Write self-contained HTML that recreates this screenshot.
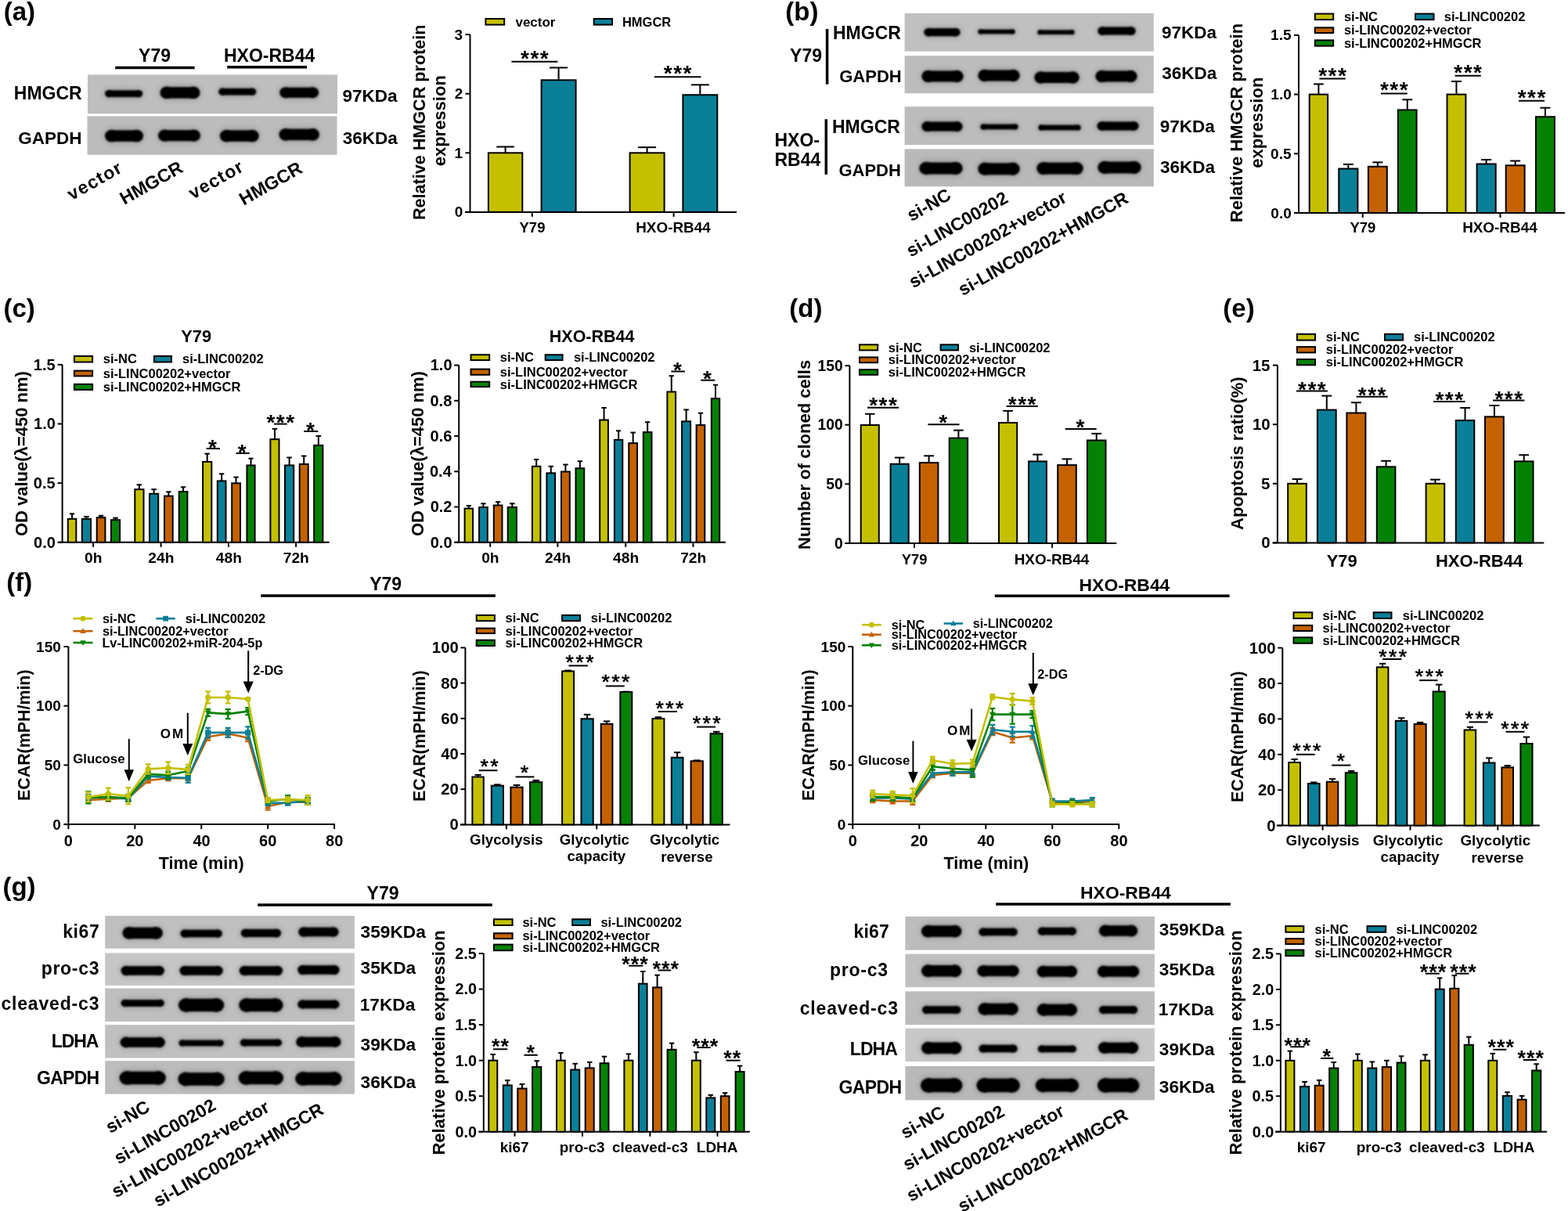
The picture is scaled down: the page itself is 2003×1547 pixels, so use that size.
<!DOCTYPE html>
<html><head><meta charset="utf-8"><title>Figure</title>
<style>
html,body{margin:0;padding:0;background:#fff;}
svg{display:block;}
</style></head><body>
<svg width="2003" height="1547" viewBox="0 0 2003 1547">
<defs>
<filter id="bl" x="-20%" y="-50%" width="140%" height="200%"><feGaussianBlur stdDeviation="1.3"/></filter>
<filter id="bl2" x="-30%" y="-100%" width="160%" height="300%"><feGaussianBlur stdDeviation="3"/></filter>

</defs>
<rect width="2003" height="1547" fill="#fff"/>
<g font-family="'Liberation Sans', Arial, Helvetica, sans-serif" font-weight="bold" fill="#000" stroke-width="2">
<text x="4.66" y="26.31" font-size="33">(a)</text>
<text x="177.07" y="78.51" font-size="23">Y79</text>
<line x1="147.2" y1="86.4" x2="248.7" y2="86.4" stroke="#000" stroke-width="3.5"/>
<text x="285.94" y="78.51" font-size="23">HXO-RB44</text>
<line x1="290.2" y1="85.7" x2="392" y2="85.7" stroke="#000" stroke-width="3.5"/>
<rect x="112" y="95.4" width="319" height="49.8" fill="#bebebe" stroke="none" />
<rect x="132.05" y="112.45" width="52.2" height="14.51" rx="7.25" fill="#000" opacity="0.13" filter="url(#bl2)"/>
<g fill="#050505" filter="url(#bl)"><ellipse cx="139.28" cy="119.7" rx="5.23" ry="4.75"/><ellipse cx="177.02" cy="119.7" rx="5.23" ry="4.75"/><rect x="139.28" y="115.33" width="37.74" height="8.75"/></g>
<rect x="202.45" y="108.02" width="55.1" height="20.76" rx="10.38" fill="#000" opacity="0.13" filter="url(#bl2)"/>
<g fill="#050505" filter="url(#bl)"><ellipse cx="213.12" cy="118.4" rx="8.67" ry="7.88"/><ellipse cx="246.88" cy="118.4" rx="8.67" ry="7.88"/><rect x="213.12" y="111.15" width="33.76" height="14.5"/></g>
<rect x="277.15" y="109.95" width="52.2" height="14.51" rx="7.25" fill="#000" opacity="0.13" filter="url(#bl2)"/>
<g fill="#050505" filter="url(#bl)"><ellipse cx="284.38" cy="117.2" rx="5.23" ry="4.75"/><ellipse cx="322.12" cy="117.2" rx="5.23" ry="4.75"/><rect x="284.38" y="112.83" width="37.74" height="8.75"/></g>
<rect x="355.25" y="108.66" width="53.9" height="19.28" rx="9.64" fill="#000" opacity="0.13" filter="url(#bl2)"/>
<g fill="#050505" filter="url(#bl)"><ellipse cx="365.1" cy="118.3" rx="7.85" ry="7.14"/><ellipse cx="399.3" cy="118.3" rx="7.85" ry="7.14"/><rect x="365.1" y="111.73" width="34.19" height="13.14"/></g>
<rect x="111.5" y="148.4" width="319" height="49.4" fill="#bcbcbc" stroke="none" />
<rect x="132.05" y="163.22" width="53" height="20.76" rx="10.38" fill="#000" opacity="0.13" filter="url(#bl2)"/>
<g fill="#050505" filter="url(#bl)"><ellipse cx="142.72" cy="173.6" rx="8.67" ry="7.88"/><ellipse cx="174.38" cy="173.6" rx="8.67" ry="7.88"/><rect x="142.72" y="166.35" width="31.66" height="14.5"/></g>
<rect x="199.95" y="163.03" width="58.1" height="20.34" rx="10.17" fill="#000" opacity="0.13" filter="url(#bl2)"/>
<g fill="#050505" filter="url(#bl)"><ellipse cx="210.39" cy="173.2" rx="8.44" ry="7.67"/><ellipse cx="247.61" cy="173.2" rx="8.44" ry="7.67"/><rect x="210.39" y="166.14" width="37.23" height="14.11"/></g>
<rect x="278.85" y="163.22" width="53.9" height="20.76" rx="10.38" fill="#000" opacity="0.13" filter="url(#bl2)"/>
<g fill="#050505" filter="url(#bl)"><ellipse cx="289.52" cy="173.6" rx="8.67" ry="7.88"/><ellipse cx="322.08" cy="173.6" rx="8.67" ry="7.88"/><rect x="289.52" y="166.35" width="32.56" height="14.5"/></g>
<rect x="354.45" y="161.52" width="55.5" height="20.76" rx="10.38" fill="#000" opacity="0.13" filter="url(#bl2)"/>
<g fill="#050505" filter="url(#bl)"><ellipse cx="365.12" cy="171.9" rx="8.67" ry="7.88"/><ellipse cx="399.28" cy="171.9" rx="8.67" ry="7.88"/><rect x="365.12" y="164.65" width="34.16" height="14.5"/></g>
<text x="17.79" y="126.81" font-size="23">HMGCR</text>
<text x="23.36" y="183.84" font-size="22.5">GAPDH</text>
<text x="437.42" y="129.74" font-size="22.5">97KDa</text>
<text x="437.68" y="184.24" font-size="22.5">36KDa</text>
<text x="91.56" y="256.52" font-size="23" transform="rotate(-29.5 91.56 256.52)" letter-spacing="1.3">vector</text>
<text x="158.81" y="262.1" font-size="23.3" transform="rotate(-29.5 158.81 262.1)">HMGCR</text>
<text x="246.56" y="255.02" font-size="23" transform="rotate(-29.5 246.56 255.02)" letter-spacing="1.3">vector</text>
<text x="311.31" y="262.9" font-size="23.3" transform="rotate(-29.5 311.31 262.9)">HMGCR</text>
<line x1="600.5" y1="270.9" x2="600.5" y2="44.1" stroke="#000"/>
<line x1="594" y1="270.9" x2="941" y2="270.9" stroke="#000"/>
<line x1="594.5" y1="270.9" x2="600.5" y2="270.9" stroke="#000"/>
<text x="580.71" y="277.44" font-size="19">0</text>
<line x1="594.5" y1="195.3" x2="600.5" y2="195.3" stroke="#000"/>
<text x="580.46" y="201.84" font-size="19">1</text>
<line x1="594.5" y1="119.7" x2="600.5" y2="119.7" stroke="#000"/>
<text x="580.69" y="126.24" font-size="19">2</text>
<line x1="594.5" y1="44.1" x2="600.5" y2="44.1" stroke="#000"/>
<text x="580.62" y="50.64" font-size="19">3</text>
<line x1="679.8" y1="270.9" x2="679.8" y2="276.9" stroke="#000"/>
<line x1="860.6" y1="270.9" x2="860.6" y2="276.9" stroke="#000"/>
<line x1="645.6" y1="195.3" x2="645.6" y2="187.51" stroke="#000"/>
<line x1="634.25" y1="187.51" x2="656.95" y2="187.51" stroke="#000"/>
<rect x="623.9" y="195.3" width="43.4" height="75.6" fill="#c4c000" stroke="#000" stroke-width="2" />
<line x1="713.6" y1="102.31" x2="713.6" y2="86.44" stroke="#000"/>
<line x1="702.1" y1="86.44" x2="725.1" y2="86.44" stroke="#000"/>
<rect x="691.6" y="102.31" width="44" height="168.59" fill="#0a7f98" stroke="#000" stroke-width="2" />
<line x1="826.6" y1="195.3" x2="826.6" y2="188.19" stroke="#000"/>
<line x1="815.1" y1="188.19" x2="838.1" y2="188.19" stroke="#000"/>
<rect x="804.6" y="195.3" width="44" height="75.6" fill="#c4c000" stroke="#000" stroke-width="2" />
<line x1="894.35" y1="121.21" x2="894.35" y2="108.36" stroke="#000"/>
<line x1="882.87" y1="108.36" x2="905.82" y2="108.36" stroke="#000"/>
<rect x="872.4" y="121.21" width="43.9" height="149.69" fill="#0a7f98" stroke="#000" stroke-width="2" />
<line x1="653.4" y1="78.8" x2="712.4" y2="78.8" stroke="#000"/>
<text x="665.03" y="83.56" font-size="28" letter-spacing="1.5">***</text>
<line x1="835.8" y1="98.3" x2="895.5" y2="98.3" stroke="#000"/>
<text x="847.78" y="103.06" font-size="28" letter-spacing="1.5">***</text>
<rect x="620.4" y="24" width="23.8" height="7.6" fill="#c4c000" stroke="#000" stroke-width="2" />
<text x="658.43" y="33.85" font-size="17">vector</text>
<rect x="758.7" y="24" width="23.3" height="7.6" fill="#0a7f98" stroke="#000" stroke-width="2" />
<text x="794.9" y="33.68" font-size="16.5">HMGCR</text>
<text x="663.53" y="296.96" font-size="18.5">Y79</text>
<text x="812.23" y="297.1" font-size="18.9">HXO-RB44</text>
<text x="542.6" y="281.07" font-size="21.6" transform="rotate(-90 542.6 281.07)">Relative HMGCR protein</text>
<text x="569.3" y="212.33" font-size="22" transform="rotate(-90 569.3 212.33)">expression</text>
<text x="1003.36" y="26.21" font-size="33">(b)</text>
<rect x="1155.6" y="17" width="318.2" height="48.6" fill="#c0c0c0" stroke="none" />
<rect x="1178.25" y="33.15" width="50.5" height="16.1" rx="8.05" fill="#000" opacity="0.13" filter="url(#bl2)"/>
<g fill="#050505" filter="url(#bl)"><ellipse cx="1186.36" cy="41.2" rx="6.11" ry="5.55"/><ellipse cx="1220.64" cy="41.2" rx="6.11" ry="5.55"/><rect x="1186.36" y="36.09" width="34.29" height="10.21"/></g>
<rect x="1247.25" y="34.84" width="51.5" height="11.33" rx="5.67" fill="#000" opacity="0.13" filter="url(#bl2)"/>
<g fill="#050505" filter="url(#bl)"><ellipse cx="1252.73" cy="40.5" rx="3.48" ry="3.17"/><ellipse cx="1293.27" cy="40.5" rx="3.48" ry="3.17"/><rect x="1252.73" y="37.59" width="40.54" height="5.82"/></g>
<rect x="1323.25" y="35.54" width="51.5" height="11.33" rx="5.67" fill="#000" opacity="0.13" filter="url(#bl2)"/>
<g fill="#050505" filter="url(#bl)"><ellipse cx="1328.73" cy="41.2" rx="3.48" ry="3.17"/><ellipse cx="1369.27" cy="41.2" rx="3.48" ry="3.17"/><rect x="1328.73" y="38.29" width="40.54" height="5.82"/></g>
<rect x="1400.25" y="31.45" width="52.5" height="16.1" rx="8.05" fill="#000" opacity="0.13" filter="url(#bl2)"/>
<g fill="#050505" filter="url(#bl)"><ellipse cx="1408.36" cy="39.5" rx="6.11" ry="5.55"/><ellipse cx="1444.64" cy="39.5" rx="6.11" ry="5.55"/><rect x="1408.36" y="34.39" width="36.29" height="10.21"/></g>
<rect x="1155.6" y="71.2" width="318.2" height="48" fill="#bdbdbd" stroke="none" />
<rect x="1175.25" y="87.33" width="57.5" height="20.34" rx="10.17" fill="#000" opacity="0.13" filter="url(#bl2)"/>
<g fill="#050505" filter="url(#bl)"><ellipse cx="1185.69" cy="97.5" rx="8.44" ry="7.67"/><ellipse cx="1222.31" cy="97.5" rx="8.44" ry="7.67"/><rect x="1185.69" y="90.44" width="36.63" height="14.11"/></g>
<rect x="1247.25" y="86.33" width="57.5" height="20.34" rx="10.17" fill="#000" opacity="0.13" filter="url(#bl2)"/>
<g fill="#050505" filter="url(#bl)"><ellipse cx="1257.69" cy="96.5" rx="8.44" ry="7.67"/><ellipse cx="1294.31" cy="96.5" rx="8.44" ry="7.67"/><rect x="1257.69" y="89.44" width="36.63" height="14.11"/></g>
<rect x="1319.25" y="88.83" width="61.5" height="20.34" rx="10.17" fill="#000" opacity="0.13" filter="url(#bl2)"/>
<g fill="#050505" filter="url(#bl)"><ellipse cx="1329.69" cy="99" rx="8.44" ry="7.67"/><ellipse cx="1370.31" cy="99" rx="8.44" ry="7.67"/><rect x="1329.69" y="91.94" width="40.63" height="14.11"/></g>
<rect x="1397.25" y="87.33" width="57.5" height="20.34" rx="10.17" fill="#000" opacity="0.13" filter="url(#bl2)"/>
<g fill="#050505" filter="url(#bl)"><ellipse cx="1407.69" cy="97.5" rx="8.44" ry="7.67"/><ellipse cx="1444.31" cy="97.5" rx="8.44" ry="7.67"/><rect x="1407.69" y="90.44" width="36.63" height="14.11"/></g>
<rect x="1155.6" y="136.2" width="318.2" height="48.9" fill="#bcbcbc" stroke="none" />
<rect x="1175.25" y="152.49" width="56.5" height="18.22" rx="9.11" fill="#000" opacity="0.13" filter="url(#bl2)"/>
<g fill="#050505" filter="url(#bl)"><ellipse cx="1184.52" cy="161.6" rx="7.27" ry="6.61"/><ellipse cx="1222.48" cy="161.6" rx="7.27" ry="6.61"/><rect x="1184.52" y="155.52" width="37.96" height="12.16"/></g>
<rect x="1250.25" y="155.81" width="52.5" height="12.39" rx="6.2" fill="#000" opacity="0.13" filter="url(#bl2)"/>
<g fill="#050505" filter="url(#bl)"><ellipse cx="1256.31" cy="162" rx="4.06" ry="3.7"/><ellipse cx="1296.69" cy="162" rx="4.06" ry="3.7"/><rect x="1256.31" y="158.6" width="40.37" height="6.8"/></g>
<rect x="1324.25" y="156.81" width="58.5" height="12.39" rx="6.2" fill="#000" opacity="0.13" filter="url(#bl2)"/>
<g fill="#050505" filter="url(#bl)"><ellipse cx="1330.31" cy="163" rx="4.06" ry="3.7"/><ellipse cx="1376.69" cy="163" rx="4.06" ry="3.7"/><rect x="1330.31" y="159.6" width="46.37" height="6.8"/></g>
<rect x="1399.25" y="152.42" width="57.5" height="17.16" rx="8.58" fill="#000" opacity="0.13" filter="url(#bl2)"/>
<g fill="#050505" filter="url(#bl)"><ellipse cx="1407.94" cy="161" rx="6.69" ry="6.08"/><ellipse cx="1448.06" cy="161" rx="6.69" ry="6.08"/><rect x="1407.94" y="155.41" width="40.12" height="11.19"/></g>
<rect x="1155.6" y="190.4" width="318.2" height="47.9" fill="#b9b9b9" stroke="none" />
<rect x="1172.25" y="204.3" width="59.5" height="21.4" rx="10.7" fill="#000" opacity="0.13" filter="url(#bl2)"/>
<g fill="#050505" filter="url(#bl)"><ellipse cx="1183.27" cy="215" rx="9.02" ry="8.2"/><ellipse cx="1220.73" cy="215" rx="9.02" ry="8.2"/><rect x="1183.27" y="207.46" width="37.46" height="15.09"/></g>
<rect x="1247.25" y="205.1" width="57.5" height="21.4" rx="10.7" fill="#000" opacity="0.13" filter="url(#bl2)"/>
<g fill="#050505" filter="url(#bl)"><ellipse cx="1258.27" cy="215.8" rx="9.02" ry="8.2"/><ellipse cx="1293.73" cy="215.8" rx="9.02" ry="8.2"/><rect x="1258.27" y="208.26" width="35.46" height="15.09"/></g>
<rect x="1322.25" y="204.4" width="63.5" height="21.4" rx="10.7" fill="#000" opacity="0.13" filter="url(#bl2)"/>
<g fill="#050505" filter="url(#bl)"><ellipse cx="1333.27" cy="215.1" rx="9.02" ry="8.2"/><ellipse cx="1374.73" cy="215.1" rx="9.02" ry="8.2"/><rect x="1333.27" y="207.56" width="41.46" height="15.09"/></g>
<rect x="1400.25" y="203.3" width="59.5" height="21.4" rx="10.7" fill="#000" opacity="0.13" filter="url(#bl2)"/>
<g fill="#050505" filter="url(#bl)"><ellipse cx="1411.27" cy="214" rx="9.02" ry="8.2"/><ellipse cx="1448.73" cy="214" rx="9.02" ry="8.2"/><rect x="1411.27" y="206.46" width="37.46" height="15.09"/></g>
<text x="1063.99" y="49.71" font-size="23">HMGCR</text>
<text x="1072.23" y="104.87" font-size="22">GAPDH</text>
<text x="1062.99" y="169.51" font-size="23">HMGCR</text>
<text x="1071.43" y="225.07" font-size="22">GAPDH</text>
<text x="1009.11" y="78.51" font-size="23">Y79</text>
<line x1="1056.6" y1="37.1" x2="1056.6" y2="107.7" stroke="#000" stroke-width="3.5"/>
<text x="989.46" y="186.71" font-size="23">HXO-</text>
<text x="989.46" y="212.21" font-size="23">RB44</text>
<line x1="1055.3" y1="152.3" x2="1055.3" y2="222.9" stroke="#000" stroke-width="3.5"/>
<text x="1483.92" y="48.94" font-size="22.5">97KDa</text>
<text x="1484.18" y="100.64" font-size="22.5">36KDa</text>
<text x="1481.72" y="168.74" font-size="22.5">97KDa</text>
<text x="1481.98" y="221.34" font-size="22.5">36KDa</text>
<text x="1164.27" y="283.27" font-size="23" transform="rotate(-29.5 1164.27 283.27)">si-NC</text>
<text x="1163.57" y="328.68" font-size="23" transform="rotate(-29.5 1163.57 328.68)">si-LINC00202</text>
<text x="1166.8" y="368.57" font-size="23" transform="rotate(-29.5 1166.8 368.57)">si-LINC00202+vector</text>
<text x="1229.88" y="378.3" font-size="23" transform="rotate(-29.5 1229.88 378.3)">si-LINC00202+HMGCR</text>
<line x1="1659" y1="272" x2="1659" y2="44.9" stroke="#000"/>
<line x1="1653" y1="272" x2="1999" y2="272" stroke="#000"/>
<line x1="1653" y1="272" x2="1659" y2="272" stroke="#000"/>
<text x="1623.37" y="278.54" font-size="19">0.0</text>
<line x1="1653" y1="196.3" x2="1659" y2="196.3" stroke="#000"/>
<text x="1623.12" y="202.84" font-size="19">0.5</text>
<line x1="1653" y1="120.6" x2="1659" y2="120.6" stroke="#000"/>
<text x="1623.37" y="127.14" font-size="19">1.0</text>
<line x1="1653" y1="44.9" x2="1659" y2="44.9" stroke="#000"/>
<text x="1623.12" y="51.44" font-size="19">1.5</text>
<line x1="1740.7" y1="272" x2="1740.7" y2="278" stroke="#000"/>
<line x1="1916.5" y1="272" x2="1916.5" y2="278" stroke="#000"/>
<line x1="1684.4" y1="120.6" x2="1684.4" y2="107.43" stroke="#000"/>
<line x1="1678.05" y1="107.43" x2="1690.75" y2="107.43" stroke="#000"/>
<rect x="1672.7" y="120.6" width="23.4" height="151.4" fill="#c4c000" stroke="#000" stroke-width="2" />
<line x1="1722.35" y1="215.53" x2="1722.35" y2="209.93" stroke="#000"/>
<line x1="1715.82" y1="209.93" x2="1728.88" y2="209.93" stroke="#000"/>
<rect x="1710.3" y="215.53" width="24.1" height="56.47" fill="#0a7f98" stroke="#000" stroke-width="2" />
<line x1="1759.85" y1="212.8" x2="1759.85" y2="207.35" stroke="#000"/>
<line x1="1753.38" y1="207.35" x2="1766.32" y2="207.35" stroke="#000"/>
<rect x="1747.9" y="212.8" width="23.9" height="59.2" fill="#c46200" stroke="#000" stroke-width="2" />
<line x1="1797.75" y1="140.43" x2="1797.75" y2="127.26" stroke="#000"/>
<line x1="1791.33" y1="127.26" x2="1804.17" y2="127.26" stroke="#000"/>
<rect x="1785.9" y="140.43" width="23.7" height="131.57" fill="#058205" stroke="#000" stroke-width="2" />
<line x1="1860.45" y1="120.6" x2="1860.45" y2="103.95" stroke="#000"/>
<line x1="1853.97" y1="103.95" x2="1866.93" y2="103.95" stroke="#000"/>
<rect x="1848.5" y="120.6" width="23.9" height="151.4" fill="#c4c000" stroke="#000" stroke-width="2" />
<line x1="1898.65" y1="209.47" x2="1898.65" y2="204.02" stroke="#000"/>
<line x1="1892.12" y1="204.02" x2="1905.18" y2="204.02" stroke="#000"/>
<rect x="1886.6" y="209.47" width="24.1" height="62.53" fill="#0a7f98" stroke="#000" stroke-width="2" />
<line x1="1935.65" y1="211.29" x2="1935.65" y2="205.54" stroke="#000"/>
<line x1="1929.18" y1="205.54" x2="1942.12" y2="205.54" stroke="#000"/>
<rect x="1923.7" y="211.29" width="23.9" height="60.71" fill="#c46200" stroke="#000" stroke-width="2" />
<line x1="1973.95" y1="149.21" x2="1973.95" y2="137.71" stroke="#000"/>
<line x1="1967.47" y1="137.71" x2="1980.43" y2="137.71" stroke="#000"/>
<rect x="1962" y="149.21" width="23.9" height="122.79" fill="#058205" stroke="#000" stroke-width="2" />
<line x1="1685.4" y1="100.6" x2="1718.8" y2="100.6" stroke="#000"/>
<text x="1684.23" y="105.56" font-size="28" letter-spacing="1.5">***</text>
<line x1="1763.9" y1="119.4" x2="1797.8" y2="119.4" stroke="#000"/>
<text x="1762.98" y="124.36" font-size="28" letter-spacing="1.5">***</text>
<line x1="1858.6" y1="96.7" x2="1891.8" y2="96.7" stroke="#000"/>
<text x="1857.33" y="101.76" font-size="28" letter-spacing="1.5">***</text>
<line x1="1940" y1="128.7" x2="1973.1" y2="128.7" stroke="#000"/>
<text x="1938.68" y="133.86" font-size="28" letter-spacing="1.5">***</text>
<rect x="1679.8" y="17.6" width="23.4" height="7.5" fill="#c4c000" stroke="#000" stroke-width="2" />
<rect x="1808" y="17.6" width="23.5" height="7.5" fill="#0a7f98" stroke="#000" stroke-width="2" />
<rect x="1679.8" y="35.3" width="23.4" height="6.8" fill="#c46200" stroke="#000" stroke-width="2" />
<rect x="1679.8" y="51.4" width="23.4" height="7.3" fill="#058205" stroke="#000" stroke-width="2" />
<text x="1716.92" y="27.18" font-size="16.5">si-NC</text>
<text x="1844.72" y="27.18" font-size="16.5">si-LINC00202</text>
<text x="1716.92" y="44.38" font-size="16.5">si-LINC00202+vector</text>
<text x="1716.92" y="60.98" font-size="16.5">si-LINC00202+HMGCR</text>
<text x="1724.43" y="297.06" font-size="18.5">Y79</text>
<text x="1868.13" y="297.2" font-size="18.9">HXO-RB44</text>
<text x="1587.1" y="284.18" font-size="22" transform="rotate(-90 1587.1 284.18)">Relative HMGCR protein</text>
<text x="1613.3" y="214.83" font-size="22" transform="rotate(-90 1613.3 214.83)">expression</text>
<text x="4.46" y="404.91" font-size="33">(c)</text>
<text x="231.22" y="436.9" font-size="21.8">Y79</text>
<line x1="79.6" y1="692.8" x2="79.6" y2="465.85" stroke="#000"/>
<line x1="74.3" y1="692.8" x2="420.6" y2="692.8" stroke="#000"/>
<line x1="73.6" y1="692.8" x2="79.6" y2="692.8" stroke="#000"/>
<text x="43.12" y="699.68" font-size="20">0.0</text>
<line x1="73.6" y1="617.15" x2="79.6" y2="617.15" stroke="#000"/>
<text x="42.85" y="624.03" font-size="20">0.5</text>
<line x1="73.6" y1="541.5" x2="79.6" y2="541.5" stroke="#000"/>
<text x="43.12" y="548.38" font-size="20">1.0</text>
<line x1="73.6" y1="465.85" x2="79.6" y2="465.85" stroke="#000"/>
<text x="42.85" y="472.73" font-size="20">1.5</text>
<line x1="119.1" y1="692.8" x2="119.1" y2="698.8" stroke="#000"/>
<line x1="205.6" y1="692.8" x2="205.6" y2="698.8" stroke="#000"/>
<line x1="291.9" y1="692.8" x2="291.9" y2="698.8" stroke="#000"/>
<line x1="378.1" y1="692.8" x2="378.1" y2="698.8" stroke="#000"/>
<line x1="92.05" y1="662.84" x2="92.05" y2="656.34" stroke="#000"/>
<line x1="88.92" y1="656.34" x2="95.17" y2="656.34" stroke="#000"/>
<rect x="86.8" y="662.84" width="10.5" height="29.96" fill="#c4c000" stroke="#000" stroke-width="2" />
<line x1="110.4" y1="662.84" x2="110.4" y2="659.97" stroke="#000"/>
<line x1="107.1" y1="659.97" x2="113.7" y2="659.97" stroke="#000"/>
<rect x="104.8" y="662.84" width="11.2" height="29.96" fill="#0a7f98" stroke="#000" stroke-width="2" />
<line x1="129.05" y1="661.18" x2="129.05" y2="658.76" stroke="#000"/>
<line x1="125.88" y1="658.76" x2="132.23" y2="658.76" stroke="#000"/>
<rect x="123.7" y="661.18" width="10.7" height="31.62" fill="#c46200" stroke="#000" stroke-width="2" />
<line x1="147.5" y1="664.2" x2="147.5" y2="661.63" stroke="#000"/>
<line x1="144.2" y1="661.63" x2="150.8" y2="661.63" stroke="#000"/>
<rect x="141.9" y="664.2" width="11.2" height="28.6" fill="#058205" stroke="#000" stroke-width="2" />
<line x1="177.9" y1="625.17" x2="177.9" y2="619.27" stroke="#000"/>
<line x1="174.6" y1="619.27" x2="181.2" y2="619.27" stroke="#000"/>
<rect x="172.3" y="625.17" width="11.2" height="67.63" fill="#c4c000" stroke="#000" stroke-width="2" />
<line x1="196.6" y1="630.77" x2="196.6" y2="625.17" stroke="#000"/>
<line x1="193.3" y1="625.17" x2="199.9" y2="625.17" stroke="#000"/>
<rect x="191" y="630.77" width="11.2" height="62.03" fill="#0a7f98" stroke="#000" stroke-width="2" />
<line x1="215.35" y1="633.64" x2="215.35" y2="628.35" stroke="#000"/>
<line x1="212.18" y1="628.35" x2="218.52" y2="628.35" stroke="#000"/>
<rect x="210" y="633.64" width="10.7" height="59.16" fill="#c46200" stroke="#000" stroke-width="2" />
<line x1="234.05" y1="628.04" x2="234.05" y2="622.29" stroke="#000"/>
<line x1="230.88" y1="622.29" x2="237.23" y2="622.29" stroke="#000"/>
<rect x="228.7" y="628.04" width="10.7" height="64.76" fill="#058205" stroke="#000" stroke-width="2" />
<line x1="264.7" y1="589.92" x2="264.7" y2="579.63" stroke="#000"/>
<line x1="261.4" y1="579.63" x2="268" y2="579.63" stroke="#000"/>
<rect x="259.1" y="589.92" width="11.2" height="102.88" fill="#c4c000" stroke="#000" stroke-width="2" />
<line x1="283.15" y1="614.43" x2="283.15" y2="605.35" stroke="#000"/>
<line x1="279.97" y1="605.35" x2="286.32" y2="605.35" stroke="#000"/>
<rect x="277.8" y="614.43" width="10.7" height="78.37" fill="#0a7f98" stroke="#000" stroke-width="2" />
<line x1="301.6" y1="617.3" x2="301.6" y2="609.58" stroke="#000"/>
<line x1="298.4" y1="609.58" x2="304.8" y2="609.58" stroke="#000"/>
<rect x="296.2" y="617.3" width="10.8" height="75.5" fill="#c46200" stroke="#000" stroke-width="2" />
<line x1="320.5" y1="594.45" x2="320.5" y2="585.68" stroke="#000"/>
<line x1="317.45" y1="585.68" x2="323.55" y2="585.68" stroke="#000"/>
<rect x="315.4" y="594.45" width="10.2" height="98.35" fill="#058205" stroke="#000" stroke-width="2" />
<line x1="350.95" y1="561.17" x2="350.95" y2="547.85" stroke="#000"/>
<line x1="347.67" y1="547.85" x2="354.23" y2="547.85" stroke="#000"/>
<rect x="345.4" y="561.17" width="11.1" height="131.63" fill="#c4c000" stroke="#000" stroke-width="2" />
<line x1="369.6" y1="594.45" x2="369.6" y2="584.47" stroke="#000"/>
<line x1="366.3" y1="584.47" x2="372.9" y2="584.47" stroke="#000"/>
<rect x="364" y="594.45" width="11.2" height="98.35" fill="#0a7f98" stroke="#000" stroke-width="2" />
<line x1="388.2" y1="592.94" x2="388.2" y2="582.5" stroke="#000"/>
<line x1="384.95" y1="582.5" x2="391.45" y2="582.5" stroke="#000"/>
<rect x="382.7" y="592.94" width="11" height="99.86" fill="#c46200" stroke="#000" stroke-width="2" />
<line x1="406.8" y1="568.89" x2="406.8" y2="556.93" stroke="#000"/>
<line x1="403.5" y1="556.93" x2="410.1" y2="556.93" stroke="#000"/>
<rect x="401.2" y="568.89" width="11.2" height="123.91" fill="#058205" stroke="#000" stroke-width="2" />
<line x1="263.6" y1="573" x2="280.9" y2="573" stroke="#000"/>
<text x="266.02" y="580.56" font-size="28" letter-spacing="1.5">*</text>
<line x1="301.5" y1="579" x2="318.7" y2="579" stroke="#000"/>
<text x="303.87" y="586.56" font-size="28" letter-spacing="1.5">*</text>
<line x1="349.9" y1="541.6" x2="366.7" y2="541.6" stroke="#000"/>
<text x="340.43" y="549.46" font-size="28" letter-spacing="1.5">***</text>
<line x1="388.2" y1="551" x2="406.2" y2="551" stroke="#000"/>
<text x="390.97" y="558.56" font-size="28" letter-spacing="1.5">*</text>
<rect x="94.9" y="454.9" width="23.2" height="7.6" fill="#c4c000" stroke="#000" stroke-width="2" />
<rect x="197" y="454.9" width="22" height="7.6" fill="#0a7f98" stroke="#000" stroke-width="2" />
<rect x="94.9" y="473.6" width="23.2" height="6.8" fill="#c46200" stroke="#000" stroke-width="2" />
<rect x="94.9" y="490.8" width="23.2" height="7.1" fill="#058205" stroke="#000" stroke-width="2" />
<text x="131.72" y="464.38" font-size="16.5">si-NC</text>
<text x="233.02" y="464.38" font-size="16.5">si-LINC00202</text>
<text x="131.72" y="482.68" font-size="16.5">si-LINC00202+vector</text>
<text x="131.72" y="500.03" font-size="16.5">si-LINC00202+HMGCR</text>
<text x="108.11" y="719" font-size="19.2">0h</text>
<text x="189.32" y="719" font-size="19.2">24h</text>
<text x="275.81" y="719" font-size="19.2">48h</text>
<text x="361.74" y="719" font-size="19.2">72h</text>
<text x="34.7" y="685.06" font-size="22" transform="rotate(-90 34.7 685.06)">OD value(λ=450 nm)</text>
<text x="701.78" y="436.8" font-size="21.5">HXO-RB44</text>
<line x1="586.2" y1="692.8" x2="586.2" y2="466.6" stroke="#000"/>
<line x1="580.6" y1="692.8" x2="926.9" y2="692.8" stroke="#000"/>
<line x1="580.2" y1="692.8" x2="586.2" y2="692.8" stroke="#000"/>
<text x="549.72" y="699.68" font-size="20">0.0</text>
<line x1="580.2" y1="647.56" x2="586.2" y2="647.56" stroke="#000"/>
<text x="549.7" y="654.44" font-size="20">0.2</text>
<line x1="580.2" y1="602.32" x2="586.2" y2="602.32" stroke="#000"/>
<text x="549" y="609.2" font-size="20">0.4</text>
<line x1="580.2" y1="557.08" x2="586.2" y2="557.08" stroke="#000"/>
<text x="549.62" y="563.96" font-size="20">0.6</text>
<line x1="580.2" y1="511.84" x2="586.2" y2="511.84" stroke="#000"/>
<text x="549.51" y="518.72" font-size="20">0.8</text>
<line x1="580.2" y1="466.6" x2="586.2" y2="466.6" stroke="#000"/>
<text x="549.72" y="473.48" font-size="20">1.0</text>
<line x1="626.2" y1="692.8" x2="626.2" y2="698.8" stroke="#000"/>
<line x1="712.4" y1="692.8" x2="712.4" y2="698.8" stroke="#000"/>
<line x1="799.2" y1="692.8" x2="799.2" y2="698.8" stroke="#000"/>
<line x1="885.5" y1="692.8" x2="885.5" y2="698.8" stroke="#000"/>
<line x1="598.85" y1="649.6" x2="598.85" y2="645.98" stroke="#000"/>
<line x1="595.73" y1="645.98" x2="601.98" y2="645.98" stroke="#000"/>
<rect x="593.6" y="649.6" width="10.5" height="43.2" fill="#c4c000" stroke="#000" stroke-width="2" />
<line x1="617.45" y1="648.01" x2="617.45" y2="643.26" stroke="#000"/>
<line x1="614.28" y1="643.26" x2="620.62" y2="643.26" stroke="#000"/>
<rect x="612.1" y="648.01" width="10.7" height="44.79" fill="#0a7f98" stroke="#000" stroke-width="2" />
<line x1="636.15" y1="645.52" x2="636.15" y2="641.23" stroke="#000"/>
<line x1="632.97" y1="641.23" x2="639.33" y2="641.23" stroke="#000"/>
<rect x="630.8" y="645.52" width="10.7" height="47.28" fill="#c46200" stroke="#000" stroke-width="2" />
<line x1="654.3" y1="648.01" x2="654.3" y2="643.26" stroke="#000"/>
<line x1="651" y1="643.26" x2="657.6" y2="643.26" stroke="#000"/>
<rect x="648.7" y="648.01" width="11.2" height="44.79" fill="#058205" stroke="#000" stroke-width="2" />
<line x1="685.15" y1="595.76" x2="685.15" y2="586.94" stroke="#000"/>
<line x1="682.02" y1="586.94" x2="688.27" y2="586.94" stroke="#000"/>
<rect x="679.9" y="595.76" width="10.5" height="97.04" fill="#c4c000" stroke="#000" stroke-width="2" />
<line x1="703.75" y1="604.36" x2="703.75" y2="595.76" stroke="#000"/>
<line x1="700.58" y1="595.76" x2="706.92" y2="595.76" stroke="#000"/>
<rect x="698.4" y="604.36" width="10.7" height="88.44" fill="#0a7f98" stroke="#000" stroke-width="2" />
<line x1="722.4" y1="602.55" x2="722.4" y2="593.5" stroke="#000"/>
<line x1="719.2" y1="593.5" x2="725.6" y2="593.5" stroke="#000"/>
<rect x="717" y="602.55" width="10.8" height="90.25" fill="#c46200" stroke="#000" stroke-width="2" />
<line x1="740.85" y1="598.25" x2="740.85" y2="589.2" stroke="#000"/>
<line x1="737.67" y1="589.2" x2="744.03" y2="589.2" stroke="#000"/>
<rect x="735.5" y="598.25" width="10.7" height="94.55" fill="#058205" stroke="#000" stroke-width="2" />
<line x1="771.55" y1="536.5" x2="771.55" y2="520.89" stroke="#000"/>
<line x1="768.38" y1="520.89" x2="774.72" y2="520.89" stroke="#000"/>
<rect x="766.2" y="536.5" width="10.7" height="156.3" fill="#c4c000" stroke="#000" stroke-width="2" />
<line x1="790.1" y1="561.83" x2="790.1" y2="550.29" stroke="#000"/>
<line x1="787" y1="550.29" x2="793.2" y2="550.29" stroke="#000"/>
<rect x="784.9" y="561.83" width="10.4" height="130.97" fill="#0a7f98" stroke="#000" stroke-width="2" />
<line x1="808.65" y1="566.13" x2="808.65" y2="552.56" stroke="#000"/>
<line x1="805.47" y1="552.56" x2="811.83" y2="552.56" stroke="#000"/>
<rect x="803.3" y="566.13" width="10.7" height="126.67" fill="#c46200" stroke="#000" stroke-width="2" />
<line x1="827.15" y1="552.1" x2="827.15" y2="539.21" stroke="#000"/>
<line x1="823.97" y1="539.21" x2="830.33" y2="539.21" stroke="#000"/>
<rect x="821.8" y="552.1" width="10.7" height="140.7" fill="#058205" stroke="#000" stroke-width="2" />
<line x1="857.75" y1="500.53" x2="857.75" y2="480.17" stroke="#000"/>
<line x1="854.58" y1="480.17" x2="860.92" y2="480.17" stroke="#000"/>
<rect x="852.4" y="500.53" width="10.7" height="192.27" fill="#c4c000" stroke="#000" stroke-width="2" />
<line x1="876.6" y1="538.31" x2="876.6" y2="523.38" stroke="#000"/>
<line x1="873.35" y1="523.38" x2="879.85" y2="523.38" stroke="#000"/>
<rect x="871.1" y="538.31" width="11" height="154.49" fill="#0a7f98" stroke="#000" stroke-width="2" />
<line x1="894.95" y1="543.06" x2="894.95" y2="527.67" stroke="#000"/>
<line x1="891.78" y1="527.67" x2="898.12" y2="527.67" stroke="#000"/>
<rect x="889.6" y="543.06" width="10.7" height="149.74" fill="#c46200" stroke="#000" stroke-width="2" />
<line x1="914" y1="509.13" x2="914" y2="491.71" stroke="#000"/>
<line x1="910.9" y1="491.71" x2="917.1" y2="491.71" stroke="#000"/>
<rect x="908.8" y="509.13" width="10.4" height="183.67" fill="#058205" stroke="#000" stroke-width="2" />
<line x1="857.4" y1="474.5" x2="874.9" y2="474.5" stroke="#000"/>
<text x="859.92" y="481.86" font-size="28" letter-spacing="1.5">*</text>
<line x1="895.3" y1="485.7" x2="913.3" y2="485.7" stroke="#000"/>
<text x="898.07" y="493.06" font-size="28" letter-spacing="1.5">*</text>
<rect x="601.5" y="453.2" width="23.7" height="6.9" fill="#c4c000" stroke="#000" stroke-width="2" />
<rect x="696.7" y="453.2" width="21.9" height="6.9" fill="#0a7f98" stroke="#000" stroke-width="2" />
<rect x="601.5" y="471.6" width="23.7" height="7.2" fill="#c46200" stroke="#000" stroke-width="2" />
<rect x="601.5" y="487.7" width="23.7" height="6.4" fill="#058205" stroke="#000" stroke-width="2" />
<text x="638.82" y="462.33" font-size="16.5">si-NC</text>
<text x="732.92" y="462.33" font-size="16.5">si-LINC00202</text>
<text x="638.82" y="480.88" font-size="16.5">si-LINC00202+vector</text>
<text x="638.82" y="496.58" font-size="16.5">si-LINC00202+HMGCR</text>
<text x="615.21" y="719" font-size="19.2">0h</text>
<text x="696.12" y="719" font-size="19.2">24h</text>
<text x="783.11" y="719" font-size="19.2">48h</text>
<text x="869.14" y="719" font-size="19.2">72h</text>
<text x="541.1" y="685.06" font-size="22" transform="rotate(-90 541.1 685.06)">OD value(λ=450 nm)</text>
<text x="1008.26" y="404.91" font-size="33">(d)</text>
<line x1="1085.4" y1="693.9" x2="1085.4" y2="467.1" stroke="#000"/>
<line x1="1079.6" y1="693.9" x2="1426.3" y2="693.9" stroke="#000"/>
<line x1="1079.4" y1="693.9" x2="1085.4" y2="693.9" stroke="#000"/>
<text x="1065.96" y="700.54" font-size="19.3">0</text>
<line x1="1079.4" y1="618.3" x2="1085.4" y2="618.3" stroke="#000"/>
<text x="1055.22" y="624.94" font-size="19.3">50</text>
<line x1="1079.4" y1="542.7" x2="1085.4" y2="542.7" stroke="#000"/>
<text x="1044.49" y="549.34" font-size="19.3">100</text>
<line x1="1079.4" y1="467.1" x2="1085.4" y2="467.1" stroke="#000"/>
<text x="1044.49" y="473.74" font-size="19.3">150</text>
<line x1="1168" y1="693.9" x2="1168" y2="699.9" stroke="#000"/>
<line x1="1344.1" y1="693.9" x2="1344.1" y2="699.9" stroke="#000"/>
<line x1="1111.25" y1="543" x2="1111.25" y2="528.79" stroke="#000"/>
<line x1="1104.97" y1="528.79" x2="1117.53" y2="528.79" stroke="#000"/>
<rect x="1099.7" y="543" width="23.1" height="150.9" fill="#c4c000" stroke="#000" stroke-width="2" />
<line x1="1149.15" y1="592.75" x2="1149.15" y2="584.58" stroke="#000"/>
<line x1="1142.88" y1="584.58" x2="1155.43" y2="584.58" stroke="#000"/>
<rect x="1137.6" y="592.75" width="23.1" height="101.15" fill="#0a7f98" stroke="#000" stroke-width="2" />
<line x1="1186.6" y1="591.08" x2="1186.6" y2="582.31" stroke="#000"/>
<line x1="1180.2" y1="582.31" x2="1193" y2="582.31" stroke="#000"/>
<rect x="1174.8" y="591.08" width="23.6" height="102.82" fill="#c46200" stroke="#000" stroke-width="2" />
<line x1="1224.4" y1="559.63" x2="1224.4" y2="549.66" stroke="#000"/>
<line x1="1218.05" y1="549.66" x2="1230.75" y2="549.66" stroke="#000"/>
<rect x="1212.7" y="559.63" width="23.4" height="134.27" fill="#058205" stroke="#000" stroke-width="2" />
<line x1="1287.6" y1="539.98" x2="1287.6" y2="524.86" stroke="#000"/>
<line x1="1281.3" y1="524.86" x2="1293.9" y2="524.86" stroke="#000"/>
<rect x="1276" y="539.98" width="23.2" height="153.92" fill="#c4c000" stroke="#000" stroke-width="2" />
<line x1="1325.45" y1="589.42" x2="1325.45" y2="580.65" stroke="#000"/>
<line x1="1319.22" y1="580.65" x2="1331.68" y2="580.65" stroke="#000"/>
<rect x="1314" y="589.42" width="22.9" height="104.48" fill="#0a7f98" stroke="#000" stroke-width="2" />
<line x1="1363" y1="594.11" x2="1363" y2="586.4" stroke="#000"/>
<line x1="1356.6" y1="586.4" x2="1369.4" y2="586.4" stroke="#000"/>
<rect x="1351.2" y="594.11" width="23.6" height="99.79" fill="#c46200" stroke="#000" stroke-width="2" />
<line x1="1400.7" y1="562.51" x2="1400.7" y2="553.89" stroke="#000"/>
<line x1="1394.3" y1="553.89" x2="1407.1" y2="553.89" stroke="#000"/>
<rect x="1388.9" y="562.51" width="23.6" height="131.39" fill="#058205" stroke="#000" stroke-width="2" />
<line x1="1108" y1="520.8" x2="1148.2" y2="520.8" stroke="#000"/>
<text x="1110.23" y="527.16" font-size="28" letter-spacing="1.5">***</text>
<line x1="1185.4" y1="542.2" x2="1225.5" y2="542.2" stroke="#000"/>
<text x="1199.22" y="549.26" font-size="28" letter-spacing="1.5">*</text>
<line x1="1285.5" y1="518.9" x2="1325.8" y2="518.9" stroke="#000"/>
<text x="1287.78" y="525.96" font-size="28" letter-spacing="1.5">***</text>
<line x1="1360.7" y1="548" x2="1400.7" y2="548" stroke="#000"/>
<text x="1374.47" y="554.66" font-size="28" letter-spacing="1.5">*</text>
<rect x="1098" y="440.3" width="23.2" height="7.1" fill="#c4c000" stroke="#000" stroke-width="2" />
<rect x="1201.6" y="440.3" width="22.4" height="7.1" fill="#0a7f98" stroke="#000" stroke-width="2" />
<rect x="1098" y="456.4" width="23.2" height="6.8" fill="#c46200" stroke="#000" stroke-width="2" />
<rect x="1098" y="472.2" width="23.2" height="6.6" fill="#058205" stroke="#000" stroke-width="2" />
<text x="1134.82" y="449.53" font-size="16.5">si-NC</text>
<text x="1237.92" y="449.53" font-size="16.5">si-LINC00202</text>
<text x="1134.82" y="465.48" font-size="16.5">si-LINC00202+vector</text>
<text x="1134.82" y="481.18" font-size="16.5">si-LINC00202+HMGCR</text>
<text x="1151.73" y="720.76" font-size="18.5">Y79</text>
<text x="1295.73" y="720.9" font-size="18.9">HXO-RB44</text>
<text x="1035.5" y="701.91" font-size="22" transform="rotate(-90 1035.5 701.91)">Number of cloned cells</text>
<text x="1562.36" y="404.91" font-size="33">(e)</text>
<line x1="1631.9" y1="693.4" x2="1631.9" y2="466.6" stroke="#000"/>
<line x1="1625.6" y1="693.4" x2="1972.3" y2="693.4" stroke="#000"/>
<line x1="1625.9" y1="693.4" x2="1631.9" y2="693.4" stroke="#000"/>
<text x="1611.34" y="700.45" font-size="20.5">0</text>
<line x1="1625.9" y1="617.8" x2="1631.9" y2="617.8" stroke="#000"/>
<text x="1611.07" y="624.85" font-size="20.5">5</text>
<line x1="1625.9" y1="542.2" x2="1631.9" y2="542.2" stroke="#000"/>
<text x="1599.94" y="549.25" font-size="20.5">10</text>
<line x1="1625.9" y1="466.6" x2="1631.9" y2="466.6" stroke="#000"/>
<text x="1599.67" y="473.65" font-size="20.5">15</text>
<line x1="1657" y1="617.8" x2="1657" y2="612.05" stroke="#000"/>
<line x1="1650.6" y1="612.05" x2="1663.4" y2="612.05" stroke="#000"/>
<rect x="1645.2" y="617.8" width="23.6" height="75.6" fill="#c4c000" stroke="#000" stroke-width="2" />
<line x1="1694.8" y1="523.6" x2="1694.8" y2="505.61" stroke="#000"/>
<line x1="1688.35" y1="505.61" x2="1701.25" y2="505.61" stroke="#000"/>
<rect x="1682.9" y="523.6" width="23.8" height="169.8" fill="#0a7f98" stroke="#000" stroke-width="2" />
<line x1="1732.4" y1="527.53" x2="1732.4" y2="514.23" stroke="#000"/>
<line x1="1725.9" y1="514.23" x2="1738.9" y2="514.23" stroke="#000"/>
<rect x="1720.4" y="527.53" width="24" height="165.87" fill="#c46200" stroke="#000" stroke-width="2" />
<line x1="1770.6" y1="596.33" x2="1770.6" y2="588.77" stroke="#000"/>
<line x1="1764.2" y1="588.77" x2="1777" y2="588.77" stroke="#000"/>
<rect x="1758.8" y="596.33" width="23.6" height="97.07" fill="#058205" stroke="#000" stroke-width="2" />
<line x1="1833.4" y1="617.8" x2="1833.4" y2="612.66" stroke="#000"/>
<line x1="1827" y1="612.66" x2="1839.8" y2="612.66" stroke="#000"/>
<rect x="1821.6" y="617.8" width="23.6" height="75.6" fill="#c4c000" stroke="#000" stroke-width="2" />
<line x1="1871.55" y1="537.06" x2="1871.55" y2="521.03" stroke="#000"/>
<line x1="1865.17" y1="521.03" x2="1877.92" y2="521.03" stroke="#000"/>
<rect x="1859.8" y="537.06" width="23.5" height="156.34" fill="#0a7f98" stroke="#000" stroke-width="2" />
<line x1="1908.9" y1="532.37" x2="1908.9" y2="518.01" stroke="#000"/>
<line x1="1902.45" y1="518.01" x2="1915.35" y2="518.01" stroke="#000"/>
<rect x="1897" y="532.37" width="23.8" height="161.03" fill="#c46200" stroke="#000" stroke-width="2" />
<line x1="1946.7" y1="589.37" x2="1946.7" y2="581.21" stroke="#000"/>
<line x1="1940.3" y1="581.21" x2="1953.1" y2="581.21" stroke="#000"/>
<rect x="1934.9" y="589.37" width="23.6" height="104.03" fill="#058205" stroke="#000" stroke-width="2" />
<line x1="1655.9" y1="499.6" x2="1695.9" y2="499.6" stroke="#000"/>
<text x="1658.03" y="506.66" font-size="28" letter-spacing="1.5">***</text>
<line x1="1732.6" y1="506.8" x2="1772.7" y2="506.8" stroke="#000"/>
<text x="1734.78" y="514.36" font-size="28" letter-spacing="1.5">***</text>
<line x1="1831.1" y1="513.1" x2="1871.5" y2="513.1" stroke="#000"/>
<text x="1833.43" y="520.16" font-size="28" letter-spacing="1.5">***</text>
<line x1="1907.1" y1="511.5" x2="1947.4" y2="511.5" stroke="#000"/>
<text x="1909.38" y="519.06" font-size="28" letter-spacing="1.5">***</text>
<rect x="1656.9" y="426.8" width="23.1" height="7.8" fill="#c4c000" stroke="#000" stroke-width="2" />
<rect x="1769" y="426.8" width="23.1" height="7.8" fill="#0a7f98" stroke="#000" stroke-width="2" />
<rect x="1656.9" y="443.1" width="23.1" height="7.3" fill="#c46200" stroke="#000" stroke-width="2" />
<rect x="1656.9" y="459" width="23.1" height="7.3" fill="#058205" stroke="#000" stroke-width="2" />
<text x="1693.72" y="436.38" font-size="16.5">si-NC</text>
<text x="1806.02" y="436.38" font-size="16.5">si-LINC00202</text>
<text x="1693.72" y="452.43" font-size="16.5">si-LINC00202+vector</text>
<text x="1693.72" y="468.33" font-size="16.5">si-LINC00202+HMGCR</text>
<text x="1694.65" y="724.27" font-size="22">Y79</text>
<text x="1833.9" y="724.27" font-size="22">HXO-RB44</text>
<text x="1587.6" y="676.9" font-size="22" transform="rotate(-90 1587.6 676.9)">Apoptosis ratio(%)</text>
<text x="8.26" y="754.91" font-size="33">(f)</text>
<text x="472.17" y="754.41" font-size="23">Y79</text>
<line x1="333.3" y1="761.1" x2="632.9" y2="761.1" stroke="#000" stroke-width="3.5"/>
<text x="1378.6" y="755.38" font-size="22.9">HXO-RB44</text>
<line x1="1270.8" y1="761.2" x2="1570.6" y2="761.2" stroke="#000" stroke-width="3.5"/>
<line x1="87.4" y1="1053.1" x2="87.4" y2="826" stroke="#000"/>
<line x1="81.9" y1="1053.1" x2="427.9" y2="1053.1" stroke="#000"/>
<line x1="81.4" y1="1053.1" x2="87.4" y2="1053.1" stroke="#000"/>
<text x="67.21" y="1059.64" font-size="19">0</text>
<line x1="81.4" y1="977.4" x2="87.4" y2="977.4" stroke="#000"/>
<text x="56.65" y="983.94" font-size="19">50</text>
<line x1="81.4" y1="901.7" x2="87.4" y2="901.7" stroke="#000"/>
<text x="46.08" y="908.24" font-size="19">100</text>
<line x1="81.4" y1="826" x2="87.4" y2="826" stroke="#000"/>
<text x="46.08" y="832.54" font-size="19">150</text>
<line x1="87.4" y1="1053.1" x2="87.4" y2="1059.1" stroke="#000"/>
<text x="81.85" y="1080.58" font-size="20">0</text>
<line x1="172.32" y1="1053.1" x2="172.32" y2="1059.1" stroke="#000"/>
<text x="161.26" y="1080.58" font-size="20">20</text>
<line x1="257.24" y1="1053.1" x2="257.24" y2="1059.1" stroke="#000"/>
<text x="246.38" y="1080.58" font-size="20">40</text>
<line x1="342.16" y1="1053.1" x2="342.16" y2="1059.1" stroke="#000"/>
<text x="331.08" y="1080.58" font-size="20">60</text>
<line x1="427.08" y1="1053.1" x2="427.08" y2="1059.1" stroke="#000"/>
<text x="416.05" y="1080.58" font-size="20">80</text>
<polyline fill="none" stroke="#c46200" stroke-width="2.6" stroke-linejoin="round" points="112.88,1022.06 138.35,1020.7 163.83,1019.49 189.3,996.93 214.78,994.21 240.26,994.21 265.73,941.22 291.21,937.28 316.68,942.58 342.16,1030.09 367.64,1024.79 393.11,1024.79"/>
<line x1="112.88" y1="1019.03" x2="112.88" y2="1025.09" stroke="#c46200" stroke-width="2.2"/>
<line x1="109.38" y1="1019.03" x2="116.38" y2="1019.03" stroke="#c46200" stroke-width="2.2"/>
<line x1="109.38" y1="1025.09" x2="116.38" y2="1025.09" stroke="#c46200" stroke-width="2.2"/>
<polygon points="112.88,1017.92 108.92,1024.94 116.84,1024.94" fill="#c46200"/>
<line x1="138.35" y1="1017.67" x2="138.35" y2="1023.73" stroke="#c46200" stroke-width="2.2"/>
<line x1="134.85" y1="1017.67" x2="141.85" y2="1017.67" stroke="#c46200" stroke-width="2.2"/>
<line x1="134.85" y1="1023.73" x2="141.85" y2="1023.73" stroke="#c46200" stroke-width="2.2"/>
<polygon points="138.35,1016.56 134.39,1023.58 142.31,1023.58" fill="#c46200"/>
<line x1="163.83" y1="1016.46" x2="163.83" y2="1022.52" stroke="#c46200" stroke-width="2.2"/>
<line x1="160.33" y1="1016.46" x2="167.33" y2="1016.46" stroke="#c46200" stroke-width="2.2"/>
<line x1="160.33" y1="1022.52" x2="167.33" y2="1022.52" stroke="#c46200" stroke-width="2.2"/>
<polygon points="163.83,1015.35 159.87,1022.37 167.79,1022.37" fill="#c46200"/>
<line x1="189.3" y1="993.9" x2="189.3" y2="999.96" stroke="#c46200" stroke-width="2.2"/>
<line x1="185.8" y1="993.9" x2="192.8" y2="993.9" stroke="#c46200" stroke-width="2.2"/>
<line x1="185.8" y1="999.96" x2="192.8" y2="999.96" stroke="#c46200" stroke-width="2.2"/>
<polygon points="189.3,992.79 185.34,999.81 193.26,999.81" fill="#c46200"/>
<line x1="214.78" y1="991.18" x2="214.78" y2="997.23" stroke="#c46200" stroke-width="2.2"/>
<line x1="211.28" y1="991.18" x2="218.28" y2="991.18" stroke="#c46200" stroke-width="2.2"/>
<line x1="211.28" y1="997.23" x2="218.28" y2="997.23" stroke="#c46200" stroke-width="2.2"/>
<polygon points="214.78,990.07 210.82,997.09 218.74,997.09" fill="#c46200"/>
<line x1="240.26" y1="991.18" x2="240.26" y2="997.23" stroke="#c46200" stroke-width="2.2"/>
<line x1="236.76" y1="991.18" x2="243.76" y2="991.18" stroke="#c46200" stroke-width="2.2"/>
<line x1="236.76" y1="997.23" x2="243.76" y2="997.23" stroke="#c46200" stroke-width="2.2"/>
<polygon points="240.26,990.07 236.3,997.09 244.22,997.09" fill="#c46200"/>
<line x1="265.73" y1="936.67" x2="265.73" y2="945.76" stroke="#c46200" stroke-width="2.2"/>
<line x1="262.23" y1="936.67" x2="269.23" y2="936.67" stroke="#c46200" stroke-width="2.2"/>
<line x1="262.23" y1="945.76" x2="269.23" y2="945.76" stroke="#c46200" stroke-width="2.2"/>
<polygon points="265.73,937.08 261.77,944.1 269.69,944.1" fill="#c46200"/>
<line x1="291.21" y1="932.74" x2="291.21" y2="941.82" stroke="#c46200" stroke-width="2.2"/>
<line x1="287.71" y1="932.74" x2="294.71" y2="932.74" stroke="#c46200" stroke-width="2.2"/>
<line x1="287.71" y1="941.82" x2="294.71" y2="941.82" stroke="#c46200" stroke-width="2.2"/>
<polygon points="291.21,933.14 287.25,940.16 295.17,940.16" fill="#c46200"/>
<line x1="316.68" y1="938.04" x2="316.68" y2="947.12" stroke="#c46200" stroke-width="2.2"/>
<line x1="313.18" y1="938.04" x2="320.18" y2="938.04" stroke="#c46200" stroke-width="2.2"/>
<line x1="313.18" y1="947.12" x2="320.18" y2="947.12" stroke="#c46200" stroke-width="2.2"/>
<polygon points="316.68,938.44 312.72,945.46 320.64,945.46" fill="#c46200"/>
<line x1="342.16" y1="1025.55" x2="342.16" y2="1034.63" stroke="#c46200" stroke-width="2.2"/>
<line x1="338.66" y1="1025.55" x2="345.66" y2="1025.55" stroke="#c46200" stroke-width="2.2"/>
<line x1="338.66" y1="1034.63" x2="345.66" y2="1034.63" stroke="#c46200" stroke-width="2.2"/>
<polygon points="342.16,1025.95 338.2,1032.97 346.12,1032.97" fill="#c46200"/>
<line x1="367.64" y1="1021.76" x2="367.64" y2="1027.82" stroke="#c46200" stroke-width="2.2"/>
<line x1="364.14" y1="1021.76" x2="371.14" y2="1021.76" stroke="#c46200" stroke-width="2.2"/>
<line x1="364.14" y1="1027.82" x2="371.14" y2="1027.82" stroke="#c46200" stroke-width="2.2"/>
<polygon points="367.64,1020.65 363.68,1027.67 371.6,1027.67" fill="#c46200"/>
<line x1="393.11" y1="1021.76" x2="393.11" y2="1027.82" stroke="#c46200" stroke-width="2.2"/>
<line x1="389.61" y1="1021.76" x2="396.61" y2="1021.76" stroke="#c46200" stroke-width="2.2"/>
<line x1="389.61" y1="1027.82" x2="396.61" y2="1027.82" stroke="#c46200" stroke-width="2.2"/>
<polygon points="393.11,1020.65 389.15,1027.67 397.07,1027.67" fill="#c46200"/>
<polyline fill="none" stroke="#0a7f98" stroke-width="2.6" stroke-linejoin="round" points="112.88,1019.49 138.35,1018.13 163.83,1020.7 189.3,991.63 214.78,992.99 240.26,993.75 265.73,935.92 291.21,935.92 316.68,935.92 342.16,1026 367.64,1025.55 393.11,1023.43"/>
<line x1="112.88" y1="1014.95" x2="112.88" y2="1024.03" stroke="#0a7f98" stroke-width="2.2"/>
<line x1="109.38" y1="1014.95" x2="116.38" y2="1014.95" stroke="#0a7f98" stroke-width="2.2"/>
<line x1="109.38" y1="1024.03" x2="116.38" y2="1024.03" stroke="#0a7f98" stroke-width="2.2"/>
<rect x="109.28" y="1015.89" width="7.2" height="7.2" fill="#0a7f98"/>
<line x1="138.35" y1="1015.1" x2="138.35" y2="1021.15" stroke="#0a7f98" stroke-width="2.2"/>
<line x1="134.85" y1="1015.1" x2="141.85" y2="1015.1" stroke="#0a7f98" stroke-width="2.2"/>
<line x1="134.85" y1="1021.15" x2="141.85" y2="1021.15" stroke="#0a7f98" stroke-width="2.2"/>
<rect x="134.75" y="1014.53" width="7.2" height="7.2" fill="#0a7f98"/>
<line x1="163.83" y1="1017.67" x2="163.83" y2="1023.73" stroke="#0a7f98" stroke-width="2.2"/>
<line x1="160.33" y1="1017.67" x2="167.33" y2="1017.67" stroke="#0a7f98" stroke-width="2.2"/>
<line x1="160.33" y1="1023.73" x2="167.33" y2="1023.73" stroke="#0a7f98" stroke-width="2.2"/>
<rect x="160.23" y="1017.1" width="7.2" height="7.2" fill="#0a7f98"/>
<line x1="189.3" y1="988.6" x2="189.3" y2="994.66" stroke="#0a7f98" stroke-width="2.2"/>
<line x1="185.8" y1="988.6" x2="192.8" y2="988.6" stroke="#0a7f98" stroke-width="2.2"/>
<line x1="185.8" y1="994.66" x2="192.8" y2="994.66" stroke="#0a7f98" stroke-width="2.2"/>
<rect x="185.7" y="988.03" width="7.2" height="7.2" fill="#0a7f98"/>
<line x1="214.78" y1="989.97" x2="214.78" y2="996.02" stroke="#0a7f98" stroke-width="2.2"/>
<line x1="211.28" y1="989.97" x2="218.28" y2="989.97" stroke="#0a7f98" stroke-width="2.2"/>
<line x1="211.28" y1="996.02" x2="218.28" y2="996.02" stroke="#0a7f98" stroke-width="2.2"/>
<rect x="211.18" y="989.39" width="7.2" height="7.2" fill="#0a7f98"/>
<line x1="240.26" y1="987.7" x2="240.26" y2="999.81" stroke="#0a7f98" stroke-width="2.2"/>
<line x1="236.76" y1="987.7" x2="243.76" y2="987.7" stroke="#0a7f98" stroke-width="2.2"/>
<line x1="236.76" y1="999.81" x2="243.76" y2="999.81" stroke="#0a7f98" stroke-width="2.2"/>
<rect x="236.66" y="990.15" width="7.2" height="7.2" fill="#0a7f98"/>
<line x1="265.73" y1="929.86" x2="265.73" y2="941.97" stroke="#0a7f98" stroke-width="2.2"/>
<line x1="262.23" y1="929.86" x2="269.23" y2="929.86" stroke="#0a7f98" stroke-width="2.2"/>
<line x1="262.23" y1="941.97" x2="269.23" y2="941.97" stroke="#0a7f98" stroke-width="2.2"/>
<rect x="262.13" y="932.32" width="7.2" height="7.2" fill="#0a7f98"/>
<line x1="291.21" y1="929.86" x2="291.21" y2="941.97" stroke="#0a7f98" stroke-width="2.2"/>
<line x1="287.71" y1="929.86" x2="294.71" y2="929.86" stroke="#0a7f98" stroke-width="2.2"/>
<line x1="287.71" y1="941.97" x2="294.71" y2="941.97" stroke="#0a7f98" stroke-width="2.2"/>
<rect x="287.61" y="932.32" width="7.2" height="7.2" fill="#0a7f98"/>
<line x1="316.68" y1="928.35" x2="316.68" y2="943.49" stroke="#0a7f98" stroke-width="2.2"/>
<line x1="313.18" y1="928.35" x2="320.18" y2="928.35" stroke="#0a7f98" stroke-width="2.2"/>
<line x1="313.18" y1="943.49" x2="320.18" y2="943.49" stroke="#0a7f98" stroke-width="2.2"/>
<rect x="313.08" y="932.32" width="7.2" height="7.2" fill="#0a7f98"/>
<line x1="342.16" y1="1022.97" x2="342.16" y2="1029.03" stroke="#0a7f98" stroke-width="2.2"/>
<line x1="338.66" y1="1022.97" x2="345.66" y2="1022.97" stroke="#0a7f98" stroke-width="2.2"/>
<line x1="338.66" y1="1029.03" x2="345.66" y2="1029.03" stroke="#0a7f98" stroke-width="2.2"/>
<rect x="338.56" y="1022.4" width="7.2" height="7.2" fill="#0a7f98"/>
<line x1="367.64" y1="1022.52" x2="367.64" y2="1028.57" stroke="#0a7f98" stroke-width="2.2"/>
<line x1="364.14" y1="1022.52" x2="371.14" y2="1022.52" stroke="#0a7f98" stroke-width="2.2"/>
<line x1="364.14" y1="1028.57" x2="371.14" y2="1028.57" stroke="#0a7f98" stroke-width="2.2"/>
<rect x="364.04" y="1021.95" width="7.2" height="7.2" fill="#0a7f98"/>
<line x1="393.11" y1="1020.4" x2="393.11" y2="1026.45" stroke="#0a7f98" stroke-width="2.2"/>
<line x1="389.61" y1="1020.4" x2="396.61" y2="1020.4" stroke="#0a7f98" stroke-width="2.2"/>
<line x1="389.61" y1="1026.45" x2="396.61" y2="1026.45" stroke="#0a7f98" stroke-width="2.2"/>
<rect x="389.51" y="1019.83" width="7.2" height="7.2" fill="#0a7f98"/>
<polyline fill="none" stroke="#058205" stroke-width="2.6" stroke-linejoin="round" points="112.88,1018.88 138.35,1018.13 163.83,1019.49 189.3,988.91 214.78,990.27 240.26,984.97 265.73,910.33 291.21,912.15 316.68,908.66 342.16,1023.43 367.64,1020.7 393.11,1023.43"/>
<line x1="112.88" y1="1011.31" x2="112.88" y2="1026.45" stroke="#058205" stroke-width="2.2"/>
<line x1="109.38" y1="1011.31" x2="116.38" y2="1011.31" stroke="#058205" stroke-width="2.2"/>
<line x1="109.38" y1="1026.45" x2="116.38" y2="1026.45" stroke="#058205" stroke-width="2.2"/>
<polygon points="112.88,1023.02 108.92,1016 116.84,1016" fill="#058205"/>
<line x1="138.35" y1="1013.58" x2="138.35" y2="1022.67" stroke="#058205" stroke-width="2.2"/>
<line x1="134.85" y1="1013.58" x2="141.85" y2="1013.58" stroke="#058205" stroke-width="2.2"/>
<line x1="134.85" y1="1022.67" x2="141.85" y2="1022.67" stroke="#058205" stroke-width="2.2"/>
<polygon points="138.35,1022.27 134.39,1015.25 142.31,1015.25" fill="#058205"/>
<line x1="163.83" y1="1014.95" x2="163.83" y2="1024.03" stroke="#058205" stroke-width="2.2"/>
<line x1="160.33" y1="1014.95" x2="167.33" y2="1014.95" stroke="#058205" stroke-width="2.2"/>
<line x1="160.33" y1="1024.03" x2="167.33" y2="1024.03" stroke="#058205" stroke-width="2.2"/>
<polygon points="163.83,1023.63 159.87,1016.61 167.79,1016.61" fill="#058205"/>
<line x1="189.3" y1="984.36" x2="189.3" y2="993.45" stroke="#058205" stroke-width="2.2"/>
<line x1="185.8" y1="984.36" x2="192.8" y2="984.36" stroke="#058205" stroke-width="2.2"/>
<line x1="185.8" y1="993.45" x2="192.8" y2="993.45" stroke="#058205" stroke-width="2.2"/>
<polygon points="189.3,993.05 185.34,986.03 193.26,986.03" fill="#058205"/>
<line x1="214.78" y1="985.73" x2="214.78" y2="994.81" stroke="#058205" stroke-width="2.2"/>
<line x1="211.28" y1="985.73" x2="218.28" y2="985.73" stroke="#058205" stroke-width="2.2"/>
<line x1="211.28" y1="994.81" x2="218.28" y2="994.81" stroke="#058205" stroke-width="2.2"/>
<polygon points="214.78,994.41 210.82,987.39 218.74,987.39" fill="#058205"/>
<line x1="240.26" y1="980.43" x2="240.26" y2="989.51" stroke="#058205" stroke-width="2.2"/>
<line x1="236.76" y1="980.43" x2="243.76" y2="980.43" stroke="#058205" stroke-width="2.2"/>
<line x1="236.76" y1="989.51" x2="243.76" y2="989.51" stroke="#058205" stroke-width="2.2"/>
<polygon points="240.26,989.11 236.3,982.09 244.22,982.09" fill="#058205"/>
<line x1="265.73" y1="905.79" x2="265.73" y2="914.87" stroke="#058205" stroke-width="2.2"/>
<line x1="262.23" y1="905.79" x2="269.23" y2="905.79" stroke="#058205" stroke-width="2.2"/>
<line x1="262.23" y1="914.87" x2="269.23" y2="914.87" stroke="#058205" stroke-width="2.2"/>
<polygon points="265.73,914.47 261.77,907.45 269.69,907.45" fill="#058205"/>
<line x1="291.21" y1="906.09" x2="291.21" y2="918.2" stroke="#058205" stroke-width="2.2"/>
<line x1="287.71" y1="906.09" x2="294.71" y2="906.09" stroke="#058205" stroke-width="2.2"/>
<line x1="287.71" y1="918.2" x2="294.71" y2="918.2" stroke="#058205" stroke-width="2.2"/>
<polygon points="291.21,916.29 287.25,909.27 295.17,909.27" fill="#058205"/>
<line x1="316.68" y1="904.12" x2="316.68" y2="913.21" stroke="#058205" stroke-width="2.2"/>
<line x1="313.18" y1="904.12" x2="320.18" y2="904.12" stroke="#058205" stroke-width="2.2"/>
<line x1="313.18" y1="913.21" x2="320.18" y2="913.21" stroke="#058205" stroke-width="2.2"/>
<polygon points="316.68,912.8 312.72,905.78 320.64,905.78" fill="#058205"/>
<line x1="342.16" y1="1020.4" x2="342.16" y2="1026.45" stroke="#058205" stroke-width="2.2"/>
<line x1="338.66" y1="1020.4" x2="345.66" y2="1020.4" stroke="#058205" stroke-width="2.2"/>
<line x1="338.66" y1="1026.45" x2="345.66" y2="1026.45" stroke="#058205" stroke-width="2.2"/>
<polygon points="342.16,1027.57 338.2,1020.55 346.12,1020.55" fill="#058205"/>
<line x1="367.64" y1="1016.16" x2="367.64" y2="1025.24" stroke="#058205" stroke-width="2.2"/>
<line x1="364.14" y1="1016.16" x2="371.14" y2="1016.16" stroke="#058205" stroke-width="2.2"/>
<line x1="364.14" y1="1025.24" x2="371.14" y2="1025.24" stroke="#058205" stroke-width="2.2"/>
<polygon points="367.64,1024.84 363.68,1017.82 371.6,1017.82" fill="#058205"/>
<line x1="393.11" y1="1018.88" x2="393.11" y2="1027.97" stroke="#058205" stroke-width="2.2"/>
<line x1="389.61" y1="1018.88" x2="396.61" y2="1018.88" stroke="#058205" stroke-width="2.2"/>
<line x1="389.61" y1="1027.97" x2="396.61" y2="1027.97" stroke="#058205" stroke-width="2.2"/>
<polygon points="393.11,1027.57 389.15,1020.55 397.07,1020.55" fill="#058205"/>
<polyline fill="none" stroke="#c4c000" stroke-width="2.6" stroke-linejoin="round" points="112.88,1018.13 138.35,1014.19 163.83,1016.76 189.3,982.4 214.78,981.03 240.26,982.85 265.73,890.95 291.21,890.95 316.68,893.07 342.16,1022.06 367.64,1021.31 393.11,1022.06"/>
<line x1="112.88" y1="1012.07" x2="112.88" y2="1024.18" stroke="#c4c000" stroke-width="2.2"/>
<line x1="109.38" y1="1012.07" x2="116.38" y2="1012.07" stroke="#c4c000" stroke-width="2.2"/>
<line x1="109.38" y1="1024.18" x2="116.38" y2="1024.18" stroke="#c4c000" stroke-width="2.2"/>
<circle cx="112.88" cy="1018.13" r="3.6" fill="#c4c000"/>
<line x1="138.35" y1="1006.62" x2="138.35" y2="1021.76" stroke="#c4c000" stroke-width="2.2"/>
<line x1="134.85" y1="1006.62" x2="141.85" y2="1006.62" stroke="#c4c000" stroke-width="2.2"/>
<line x1="134.85" y1="1021.76" x2="141.85" y2="1021.76" stroke="#c4c000" stroke-width="2.2"/>
<circle cx="138.35" cy="1014.19" r="3.6" fill="#c4c000"/>
<line x1="163.83" y1="1006.17" x2="163.83" y2="1027.36" stroke="#c4c000" stroke-width="2.2"/>
<line x1="160.33" y1="1006.17" x2="167.33" y2="1006.17" stroke="#c4c000" stroke-width="2.2"/>
<line x1="160.33" y1="1027.36" x2="167.33" y2="1027.36" stroke="#c4c000" stroke-width="2.2"/>
<circle cx="163.83" cy="1016.76" r="3.6" fill="#c4c000"/>
<line x1="189.3" y1="976.34" x2="189.3" y2="988.45" stroke="#c4c000" stroke-width="2.2"/>
<line x1="185.8" y1="976.34" x2="192.8" y2="976.34" stroke="#c4c000" stroke-width="2.2"/>
<line x1="185.8" y1="988.45" x2="192.8" y2="988.45" stroke="#c4c000" stroke-width="2.2"/>
<circle cx="189.3" cy="982.4" r="3.6" fill="#c4c000"/>
<line x1="214.78" y1="973.46" x2="214.78" y2="988.6" stroke="#c4c000" stroke-width="2.2"/>
<line x1="211.28" y1="973.46" x2="218.28" y2="973.46" stroke="#c4c000" stroke-width="2.2"/>
<line x1="211.28" y1="988.6" x2="218.28" y2="988.6" stroke="#c4c000" stroke-width="2.2"/>
<circle cx="214.78" cy="981.03" r="3.6" fill="#c4c000"/>
<line x1="240.26" y1="976.79" x2="240.26" y2="988.91" stroke="#c4c000" stroke-width="2.2"/>
<line x1="236.76" y1="976.79" x2="243.76" y2="976.79" stroke="#c4c000" stroke-width="2.2"/>
<line x1="236.76" y1="988.91" x2="243.76" y2="988.91" stroke="#c4c000" stroke-width="2.2"/>
<circle cx="240.26" cy="982.85" r="3.6" fill="#c4c000"/>
<line x1="265.73" y1="883.38" x2="265.73" y2="898.52" stroke="#c4c000" stroke-width="2.2"/>
<line x1="262.23" y1="883.38" x2="269.23" y2="883.38" stroke="#c4c000" stroke-width="2.2"/>
<line x1="262.23" y1="898.52" x2="269.23" y2="898.52" stroke="#c4c000" stroke-width="2.2"/>
<circle cx="265.73" cy="890.95" r="3.6" fill="#c4c000"/>
<line x1="291.21" y1="883.38" x2="291.21" y2="898.52" stroke="#c4c000" stroke-width="2.2"/>
<line x1="287.71" y1="883.38" x2="294.71" y2="883.38" stroke="#c4c000" stroke-width="2.2"/>
<line x1="287.71" y1="898.52" x2="294.71" y2="898.52" stroke="#c4c000" stroke-width="2.2"/>
<circle cx="291.21" cy="890.95" r="3.6" fill="#c4c000"/>
<line x1="316.68" y1="891.86" x2="316.68" y2="894.28" stroke="#c4c000" stroke-width="2.2"/>
<line x1="313.18" y1="891.86" x2="320.18" y2="891.86" stroke="#c4c000" stroke-width="2.2"/>
<line x1="313.18" y1="894.28" x2="320.18" y2="894.28" stroke="#c4c000" stroke-width="2.2"/>
<circle cx="316.68" cy="893.07" r="3.6" fill="#c4c000"/>
<line x1="342.16" y1="1019.03" x2="342.16" y2="1025.09" stroke="#c4c000" stroke-width="2.2"/>
<line x1="338.66" y1="1019.03" x2="345.66" y2="1019.03" stroke="#c4c000" stroke-width="2.2"/>
<line x1="338.66" y1="1025.09" x2="345.66" y2="1025.09" stroke="#c4c000" stroke-width="2.2"/>
<circle cx="342.16" cy="1022.06" r="3.6" fill="#c4c000"/>
<line x1="367.64" y1="1018.28" x2="367.64" y2="1024.33" stroke="#c4c000" stroke-width="2.2"/>
<line x1="364.14" y1="1018.28" x2="371.14" y2="1018.28" stroke="#c4c000" stroke-width="2.2"/>
<line x1="364.14" y1="1024.33" x2="371.14" y2="1024.33" stroke="#c4c000" stroke-width="2.2"/>
<circle cx="367.64" cy="1021.31" r="3.6" fill="#c4c000"/>
<line x1="393.11" y1="1016.01" x2="393.11" y2="1028.12" stroke="#c4c000" stroke-width="2.2"/>
<line x1="389.61" y1="1016.01" x2="396.61" y2="1016.01" stroke="#c4c000" stroke-width="2.2"/>
<line x1="389.61" y1="1028.12" x2="396.61" y2="1028.12" stroke="#c4c000" stroke-width="2.2"/>
<circle cx="393.11" cy="1022.06" r="3.6" fill="#c4c000"/>
<line x1="164.8" y1="943.9" x2="164.8" y2="985.2" stroke="#000"/>
<polygon points="158.55,983.2 171.05,983.2 164.8,998.2" fill="#000"/>
<line x1="239.8" y1="910.8" x2="239.8" y2="952.1" stroke="#000"/>
<polygon points="233.3,950.1 246.3,950.1 239.8,965.1" fill="#000"/>
<line x1="317.2" y1="831.3" x2="317.2" y2="872.6" stroke="#000"/>
<polygon points="310.7,870.6 323.7,870.6 317.2,885.6" fill="#000"/>
<text x="93.31" y="974.88" font-size="16.8">Glucose</text>
<text x="204.7" y="943.15" font-size="17" letter-spacing="2">OM</text>
<text x="323.24" y="862.07" font-size="16.2">2-DG</text>
<text x="202.82" y="1110.33" font-size="21.6">Time (min)</text>
<text x="37.5" y="1023" font-size="21.4" transform="rotate(-90 37.5 1023)">ECAR(mPH/min)</text>
<line x1="93.5" y1="790.2" x2="118.5" y2="790.2" stroke="#c4c000" stroke-width="2.6"/>
<circle cx="106" cy="790.2" r="3.4" fill="#c4c000"/>
<line x1="93.5" y1="806.2" x2="118.5" y2="806.2" stroke="#c46200" stroke-width="2.6"/>
<polygon points="106,802.29 102.26,808.92 109.74,808.92" fill="#c46200"/>
<line x1="93.5" y1="821" x2="118.5" y2="821" stroke="#058205" stroke-width="2.6"/>
<polygon points="106,824.91 102.26,818.28 109.74,818.28" fill="#058205"/>
<line x1="199.4" y1="790.2" x2="223.8" y2="790.2" stroke="#0a7f98" stroke-width="2.6"/>
<rect x="208.2" y="786.8" width="6.8" height="6.8" fill="#0a7f98"/>
<text x="130.93" y="795.81" font-size="16.3">si-NC</text>
<text x="236.83" y="795.81" font-size="16.3">si-LINC00202</text>
<text x="130.93" y="811.81" font-size="16.3">si-LINC00202+vector</text>
<text x="130.41" y="826.61" font-size="16.3">Lv-LINC00202+miR-204-5p</text>
<line x1="594.4" y1="1053.4" x2="594.4" y2="827.4" stroke="#000"/>
<line x1="587.8" y1="1053.4" x2="932.5" y2="1053.4" stroke="#000"/>
<line x1="588.4" y1="1053.4" x2="594.4" y2="1053.4" stroke="#000"/>
<text x="574.44" y="1060.38" font-size="20.3">0</text>
<line x1="588.4" y1="1008.2" x2="594.4" y2="1008.2" stroke="#000"/>
<text x="563.15" y="1015.18" font-size="20.3">20</text>
<line x1="588.4" y1="963" x2="594.4" y2="963" stroke="#000"/>
<text x="563.15" y="969.98" font-size="20.3">40</text>
<line x1="588.4" y1="917.8" x2="594.4" y2="917.8" stroke="#000"/>
<text x="563.15" y="924.78" font-size="20.3">60</text>
<line x1="588.4" y1="872.6" x2="594.4" y2="872.6" stroke="#000"/>
<text x="563.15" y="879.58" font-size="20.3">80</text>
<line x1="588.4" y1="827.4" x2="594.4" y2="827.4" stroke="#000"/>
<text x="551.86" y="834.38" font-size="20.3">100</text>
<line x1="646.9" y1="1053.4" x2="646.9" y2="1059.4" stroke="#000"/>
<line x1="762.2" y1="1053.4" x2="762.2" y2="1059.4" stroke="#000"/>
<line x1="877.2" y1="1053.4" x2="877.2" y2="1059.4" stroke="#000"/>
<line x1="610.6" y1="992.47" x2="610.6" y2="989.89" stroke="#000"/>
<line x1="606.5" y1="989.89" x2="614.7" y2="989.89" stroke="#000"/>
<rect x="603.4" y="992.47" width="14.4" height="60.93" fill="#c4c000" stroke="#000" stroke-width="2" />
<line x1="635.4" y1="1003.68" x2="635.4" y2="1002.32" stroke="#000"/>
<line x1="631.1" y1="1002.32" x2="639.7" y2="1002.32" stroke="#000"/>
<rect x="627.8" y="1003.68" width="15.2" height="49.72" fill="#0a7f98" stroke="#000" stroke-width="2" />
<line x1="660" y1="1005.71" x2="660" y2="1003" stroke="#000"/>
<line x1="655.7" y1="1003" x2="664.3" y2="1003" stroke="#000"/>
<rect x="652.4" y="1005.71" width="15.2" height="47.69" fill="#c46200" stroke="#000" stroke-width="2" />
<line x1="684.7" y1="999.16" x2="684.7" y2="996.9" stroke="#000"/>
<line x1="680.4" y1="996.9" x2="689" y2="996.9" stroke="#000"/>
<rect x="677.1" y="999.16" width="15.2" height="54.24" fill="#058205" stroke="#000" stroke-width="2" />
<line x1="725.6" y1="857.46" x2="725.6" y2="856.55" stroke="#000"/>
<line x1="721.35" y1="856.55" x2="729.85" y2="856.55" stroke="#000"/>
<rect x="718.1" y="857.46" width="15" height="195.94" fill="#c4c000" stroke="#000" stroke-width="2" />
<line x1="750.1" y1="918.25" x2="750.1" y2="912.83" stroke="#000"/>
<line x1="745.8" y1="912.83" x2="754.4" y2="912.83" stroke="#000"/>
<rect x="742.5" y="918.25" width="15.2" height="135.15" fill="#0a7f98" stroke="#000" stroke-width="2" />
<line x1="775.05" y1="924.81" x2="775.05" y2="921.42" stroke="#000"/>
<line x1="770.88" y1="921.42" x2="779.22" y2="921.42" stroke="#000"/>
<rect x="767.7" y="924.81" width="14.7" height="128.59" fill="#c46200" stroke="#000" stroke-width="2" />
<line x1="799.8" y1="883.9" x2="799.8" y2="883.67" stroke="#000"/>
<line x1="795.55" y1="883.67" x2="804.05" y2="883.67" stroke="#000"/>
<rect x="792.3" y="883.9" width="15" height="169.5" fill="#058205" stroke="#000" stroke-width="2" />
<line x1="840.9" y1="918.03" x2="840.9" y2="916.22" stroke="#000"/>
<line x1="836.65" y1="916.22" x2="845.15" y2="916.22" stroke="#000"/>
<rect x="833.4" y="918.03" width="15" height="135.37" fill="#c4c000" stroke="#000" stroke-width="2" />
<line x1="865.15" y1="967.75" x2="865.15" y2="961.19" stroke="#000"/>
<line x1="860.97" y1="961.19" x2="869.33" y2="961.19" stroke="#000"/>
<rect x="857.8" y="967.75" width="14.7" height="85.65" fill="#0a7f98" stroke="#000" stroke-width="2" />
<line x1="890.25" y1="972.27" x2="890.25" y2="971.36" stroke="#000"/>
<line x1="885.92" y1="971.36" x2="894.58" y2="971.36" stroke="#000"/>
<rect x="882.6" y="972.27" width="15.3" height="81.13" fill="#c46200" stroke="#000" stroke-width="2" />
<line x1="915.15" y1="937.24" x2="915.15" y2="934.75" stroke="#000"/>
<line x1="910.83" y1="934.75" x2="919.47" y2="934.75" stroke="#000"/>
<rect x="907.5" y="937.24" width="15.3" height="116.16" fill="#058205" stroke="#000" stroke-width="2" />
<line x1="611.7" y1="984.2" x2="635.5" y2="984.2" stroke="#000"/>
<text x="613.43" y="987.7" font-size="26.5" font-weight="normal" letter-spacing="2.5" stroke="#000" stroke-width="0.7">**</text>
<line x1="658.6" y1="992.4" x2="682.4" y2="992.4" stroke="#000"/>
<text x="664.79" y="995.7" font-size="26.5" font-weight="normal" letter-spacing="2.5" stroke="#000" stroke-width="0.7">*</text>
<line x1="726.4" y1="850.4" x2="750.8" y2="850.4" stroke="#000"/>
<text x="722.62" y="855.2" font-size="26.5" font-weight="normal" letter-spacing="2.5" stroke="#000" stroke-width="0.7">***</text>
<line x1="773.9" y1="876.4" x2="797.7" y2="876.4" stroke="#000"/>
<text x="768.42" y="880.4" font-size="26.5" font-weight="normal" letter-spacing="2.5" stroke="#000" stroke-width="0.7">***</text>
<line x1="840.9" y1="909" x2="864.8" y2="909" stroke="#000"/>
<text x="837.42" y="913.5" font-size="26.5" font-weight="normal" letter-spacing="2.5" stroke="#000" stroke-width="0.7">***</text>
<line x1="890.1" y1="928.6" x2="914" y2="928.6" stroke="#000"/>
<text x="884.72" y="933.4" font-size="26.5" font-weight="normal" letter-spacing="2.5" stroke="#000" stroke-width="0.7">***</text>
<rect x="608.7" y="785.9" width="23.2" height="7.3" fill="#c4c000" stroke="#000" stroke-width="2" />
<rect x="718.1" y="785.9" width="22.9" height="7.3" fill="#0a7f98" stroke="#000" stroke-width="2" />
<rect x="608.7" y="802.6" width="23.2" height="6.5" fill="#c46200" stroke="#000" stroke-width="2" />
<rect x="608.7" y="817.7" width="23.2" height="7.3" fill="#058205" stroke="#000" stroke-width="2" />
<text x="645.52" y="795.23" font-size="16.5">si-NC</text>
<text x="754.72" y="795.23" font-size="16.5">si-LINC00202</text>
<text x="645.52" y="811.53" font-size="16.5">si-LINC00202+vector</text>
<text x="645.52" y="827.03" font-size="16.5">si-LINC00202+HMGCR</text>
<text x="600.12" y="1078.93" font-size="18.7">Glycolysis</text>
<text x="714.7" y="1078.93" font-size="18.7">Glycolytic</text>
<text x="724.46" y="1099.93" font-size="18.7">capacity</text>
<text x="829.9" y="1078.93" font-size="18.7">Glycolytic</text>
<text x="844.13" y="1101.43" font-size="18.7">reverse</text>
<text x="543" y="1024" font-size="21.4" transform="rotate(-90 543 1024)">ECAR(mPH/min)</text>
<line x1="1089.3" y1="1053.1" x2="1089.3" y2="826" stroke="#000"/>
<line x1="1083.8" y1="1053.1" x2="1430" y2="1053.1" stroke="#000"/>
<line x1="1083.3" y1="1053.1" x2="1089.3" y2="1053.1" stroke="#000"/>
<text x="1069.71" y="1059.64" font-size="19">0</text>
<line x1="1083.3" y1="977.4" x2="1089.3" y2="977.4" stroke="#000"/>
<text x="1059.15" y="983.94" font-size="19">50</text>
<line x1="1083.3" y1="901.7" x2="1089.3" y2="901.7" stroke="#000"/>
<text x="1048.58" y="908.24" font-size="19">100</text>
<line x1="1083.3" y1="826" x2="1089.3" y2="826" stroke="#000"/>
<text x="1048.58" y="832.54" font-size="19">150</text>
<line x1="1089.3" y1="1053.1" x2="1089.3" y2="1059.1" stroke="#000"/>
<text x="1083.75" y="1080.58" font-size="20">0</text>
<line x1="1174.3" y1="1053.1" x2="1174.3" y2="1059.1" stroke="#000"/>
<text x="1163.24" y="1080.58" font-size="20">20</text>
<line x1="1259.3" y1="1053.1" x2="1259.3" y2="1059.1" stroke="#000"/>
<text x="1248.44" y="1080.58" font-size="20">40</text>
<line x1="1344.3" y1="1053.1" x2="1344.3" y2="1059.1" stroke="#000"/>
<text x="1333.22" y="1080.58" font-size="20">60</text>
<line x1="1429.3" y1="1053.1" x2="1429.3" y2="1059.1" stroke="#000"/>
<text x="1418.27" y="1080.58" font-size="20">80</text>
<polyline fill="none" stroke="#c46200" stroke-width="2.6" stroke-linejoin="round" points="1114.8,1022.06 1140.3,1023.43 1165.8,1023.43 1191.3,990.27 1216.8,987.7 1242.3,987.7 1267.8,934.71 1293.3,942.58 1318.8,940 1344.3,1024.79 1369.8,1024.79 1395.3,1023.43"/>
<line x1="1114.8" y1="1019.03" x2="1114.8" y2="1025.09" stroke="#c46200" stroke-width="2.2"/>
<line x1="1111.3" y1="1019.03" x2="1118.3" y2="1019.03" stroke="#c46200" stroke-width="2.2"/>
<line x1="1111.3" y1="1025.09" x2="1118.3" y2="1025.09" stroke="#c46200" stroke-width="2.2"/>
<polygon points="1114.8,1017.92 1110.84,1024.94 1118.76,1024.94" fill="#c46200"/>
<line x1="1140.3" y1="1020.4" x2="1140.3" y2="1026.45" stroke="#c46200" stroke-width="2.2"/>
<line x1="1136.8" y1="1020.4" x2="1143.8" y2="1020.4" stroke="#c46200" stroke-width="2.2"/>
<line x1="1136.8" y1="1026.45" x2="1143.8" y2="1026.45" stroke="#c46200" stroke-width="2.2"/>
<polygon points="1140.3,1019.29 1136.34,1026.31 1144.26,1026.31" fill="#c46200"/>
<line x1="1165.8" y1="1018.88" x2="1165.8" y2="1027.97" stroke="#c46200" stroke-width="2.2"/>
<line x1="1162.3" y1="1018.88" x2="1169.3" y2="1018.88" stroke="#c46200" stroke-width="2.2"/>
<line x1="1162.3" y1="1027.97" x2="1169.3" y2="1027.97" stroke="#c46200" stroke-width="2.2"/>
<polygon points="1165.8,1019.29 1161.84,1026.31 1169.76,1026.31" fill="#c46200"/>
<line x1="1191.3" y1="987.24" x2="1191.3" y2="993.3" stroke="#c46200" stroke-width="2.2"/>
<line x1="1187.8" y1="987.24" x2="1194.8" y2="987.24" stroke="#c46200" stroke-width="2.2"/>
<line x1="1187.8" y1="993.3" x2="1194.8" y2="993.3" stroke="#c46200" stroke-width="2.2"/>
<polygon points="1191.3,986.13 1187.34,993.15 1195.26,993.15" fill="#c46200"/>
<line x1="1216.8" y1="984.67" x2="1216.8" y2="990.72" stroke="#c46200" stroke-width="2.2"/>
<line x1="1213.3" y1="984.67" x2="1220.3" y2="984.67" stroke="#c46200" stroke-width="2.2"/>
<line x1="1213.3" y1="990.72" x2="1220.3" y2="990.72" stroke="#c46200" stroke-width="2.2"/>
<polygon points="1216.8,983.56 1212.84,990.58 1220.76,990.58" fill="#c46200"/>
<line x1="1242.3" y1="983.15" x2="1242.3" y2="992.24" stroke="#c46200" stroke-width="2.2"/>
<line x1="1238.8" y1="983.15" x2="1245.8" y2="983.15" stroke="#c46200" stroke-width="2.2"/>
<line x1="1238.8" y1="992.24" x2="1245.8" y2="992.24" stroke="#c46200" stroke-width="2.2"/>
<polygon points="1242.3,983.56 1238.34,990.58 1246.26,990.58" fill="#c46200"/>
<line x1="1267.8" y1="930.16" x2="1267.8" y2="939.25" stroke="#c46200" stroke-width="2.2"/>
<line x1="1264.3" y1="930.16" x2="1271.3" y2="930.16" stroke="#c46200" stroke-width="2.2"/>
<line x1="1264.3" y1="939.25" x2="1271.3" y2="939.25" stroke="#c46200" stroke-width="2.2"/>
<polygon points="1267.8,930.57 1263.84,937.59 1271.76,937.59" fill="#c46200"/>
<line x1="1293.3" y1="936.52" x2="1293.3" y2="948.63" stroke="#c46200" stroke-width="2.2"/>
<line x1="1289.8" y1="936.52" x2="1296.8" y2="936.52" stroke="#c46200" stroke-width="2.2"/>
<line x1="1289.8" y1="948.63" x2="1296.8" y2="948.63" stroke="#c46200" stroke-width="2.2"/>
<polygon points="1293.3,938.44 1289.34,945.46 1297.26,945.46" fill="#c46200"/>
<line x1="1318.8" y1="935.46" x2="1318.8" y2="944.55" stroke="#c46200" stroke-width="2.2"/>
<line x1="1315.3" y1="935.46" x2="1322.3" y2="935.46" stroke="#c46200" stroke-width="2.2"/>
<line x1="1315.3" y1="944.55" x2="1322.3" y2="944.55" stroke="#c46200" stroke-width="2.2"/>
<polygon points="1318.8,935.86 1314.84,942.88 1322.76,942.88" fill="#c46200"/>
<line x1="1344.3" y1="1021.76" x2="1344.3" y2="1027.82" stroke="#c46200" stroke-width="2.2"/>
<line x1="1340.8" y1="1021.76" x2="1347.8" y2="1021.76" stroke="#c46200" stroke-width="2.2"/>
<line x1="1340.8" y1="1027.82" x2="1347.8" y2="1027.82" stroke="#c46200" stroke-width="2.2"/>
<polygon points="1344.3,1020.65 1340.34,1027.67 1348.26,1027.67" fill="#c46200"/>
<line x1="1369.8" y1="1021.76" x2="1369.8" y2="1027.82" stroke="#c46200" stroke-width="2.2"/>
<line x1="1366.3" y1="1021.76" x2="1373.3" y2="1021.76" stroke="#c46200" stroke-width="2.2"/>
<line x1="1366.3" y1="1027.82" x2="1373.3" y2="1027.82" stroke="#c46200" stroke-width="2.2"/>
<polygon points="1369.8,1020.65 1365.84,1027.67 1373.76,1027.67" fill="#c46200"/>
<line x1="1395.3" y1="1020.4" x2="1395.3" y2="1026.45" stroke="#c46200" stroke-width="2.2"/>
<line x1="1391.8" y1="1020.4" x2="1398.8" y2="1020.4" stroke="#c46200" stroke-width="2.2"/>
<line x1="1391.8" y1="1026.45" x2="1398.8" y2="1026.45" stroke="#c46200" stroke-width="2.2"/>
<polygon points="1395.3,1019.29 1391.34,1026.31 1399.26,1026.31" fill="#c46200"/>
<polyline fill="none" stroke="#0a7f98" stroke-width="2.6" stroke-linejoin="round" points="1114.8,1019.49 1140.3,1019.49 1165.8,1020.7 1191.3,987.7 1216.8,986.33 1242.3,986.33 1267.8,931.98 1293.3,934.71 1318.8,934.71 1344.3,1023.43 1369.8,1023.43 1395.3,1022.06"/>
<line x1="1114.8" y1="1016.46" x2="1114.8" y2="1022.52" stroke="#0a7f98" stroke-width="2.2"/>
<line x1="1111.3" y1="1016.46" x2="1118.3" y2="1016.46" stroke="#0a7f98" stroke-width="2.2"/>
<line x1="1111.3" y1="1022.52" x2="1118.3" y2="1022.52" stroke="#0a7f98" stroke-width="2.2"/>
<polygon points="1114.8,1015.35 1110.84,1022.37 1118.76,1022.37" fill="#0a7f98"/>
<line x1="1140.3" y1="1016.46" x2="1140.3" y2="1022.52" stroke="#0a7f98" stroke-width="2.2"/>
<line x1="1136.8" y1="1016.46" x2="1143.8" y2="1016.46" stroke="#0a7f98" stroke-width="2.2"/>
<line x1="1136.8" y1="1022.52" x2="1143.8" y2="1022.52" stroke="#0a7f98" stroke-width="2.2"/>
<polygon points="1140.3,1015.35 1136.34,1022.37 1144.26,1022.37" fill="#0a7f98"/>
<line x1="1165.8" y1="1017.67" x2="1165.8" y2="1023.73" stroke="#0a7f98" stroke-width="2.2"/>
<line x1="1162.3" y1="1017.67" x2="1169.3" y2="1017.67" stroke="#0a7f98" stroke-width="2.2"/>
<line x1="1162.3" y1="1023.73" x2="1169.3" y2="1023.73" stroke="#0a7f98" stroke-width="2.2"/>
<polygon points="1165.8,1016.56 1161.84,1023.58 1169.76,1023.58" fill="#0a7f98"/>
<line x1="1191.3" y1="983.15" x2="1191.3" y2="992.24" stroke="#0a7f98" stroke-width="2.2"/>
<line x1="1187.8" y1="983.15" x2="1194.8" y2="983.15" stroke="#0a7f98" stroke-width="2.2"/>
<line x1="1187.8" y1="992.24" x2="1194.8" y2="992.24" stroke="#0a7f98" stroke-width="2.2"/>
<polygon points="1191.3,983.56 1187.34,990.58 1195.26,990.58" fill="#0a7f98"/>
<line x1="1216.8" y1="981.79" x2="1216.8" y2="990.87" stroke="#0a7f98" stroke-width="2.2"/>
<line x1="1213.3" y1="981.79" x2="1220.3" y2="981.79" stroke="#0a7f98" stroke-width="2.2"/>
<line x1="1213.3" y1="990.87" x2="1220.3" y2="990.87" stroke="#0a7f98" stroke-width="2.2"/>
<polygon points="1216.8,982.19 1212.84,989.21 1220.76,989.21" fill="#0a7f98"/>
<line x1="1242.3" y1="981.79" x2="1242.3" y2="990.87" stroke="#0a7f98" stroke-width="2.2"/>
<line x1="1238.8" y1="981.79" x2="1245.8" y2="981.79" stroke="#0a7f98" stroke-width="2.2"/>
<line x1="1238.8" y1="990.87" x2="1245.8" y2="990.87" stroke="#0a7f98" stroke-width="2.2"/>
<polygon points="1242.3,982.19 1238.34,989.21 1246.26,989.21" fill="#0a7f98"/>
<line x1="1267.8" y1="925.92" x2="1267.8" y2="938.04" stroke="#0a7f98" stroke-width="2.2"/>
<line x1="1264.3" y1="925.92" x2="1271.3" y2="925.92" stroke="#0a7f98" stroke-width="2.2"/>
<line x1="1264.3" y1="938.04" x2="1271.3" y2="938.04" stroke="#0a7f98" stroke-width="2.2"/>
<polygon points="1267.8,927.84 1263.84,934.86 1271.76,934.86" fill="#0a7f98"/>
<line x1="1293.3" y1="928.65" x2="1293.3" y2="940.76" stroke="#0a7f98" stroke-width="2.2"/>
<line x1="1289.8" y1="928.65" x2="1296.8" y2="928.65" stroke="#0a7f98" stroke-width="2.2"/>
<line x1="1289.8" y1="940.76" x2="1296.8" y2="940.76" stroke="#0a7f98" stroke-width="2.2"/>
<polygon points="1293.3,930.57 1289.34,937.59 1297.26,937.59" fill="#0a7f98"/>
<line x1="1318.8" y1="927.14" x2="1318.8" y2="942.28" stroke="#0a7f98" stroke-width="2.2"/>
<line x1="1315.3" y1="927.14" x2="1322.3" y2="927.14" stroke="#0a7f98" stroke-width="2.2"/>
<line x1="1315.3" y1="942.28" x2="1322.3" y2="942.28" stroke="#0a7f98" stroke-width="2.2"/>
<polygon points="1318.8,930.57 1314.84,937.59 1322.76,937.59" fill="#0a7f98"/>
<line x1="1344.3" y1="1020.4" x2="1344.3" y2="1026.45" stroke="#0a7f98" stroke-width="2.2"/>
<line x1="1340.8" y1="1020.4" x2="1347.8" y2="1020.4" stroke="#0a7f98" stroke-width="2.2"/>
<line x1="1340.8" y1="1026.45" x2="1347.8" y2="1026.45" stroke="#0a7f98" stroke-width="2.2"/>
<polygon points="1344.3,1019.29 1340.34,1026.31 1348.26,1026.31" fill="#0a7f98"/>
<line x1="1369.8" y1="1020.4" x2="1369.8" y2="1026.45" stroke="#0a7f98" stroke-width="2.2"/>
<line x1="1366.3" y1="1020.4" x2="1373.3" y2="1020.4" stroke="#0a7f98" stroke-width="2.2"/>
<line x1="1366.3" y1="1026.45" x2="1373.3" y2="1026.45" stroke="#0a7f98" stroke-width="2.2"/>
<polygon points="1369.8,1019.29 1365.84,1026.31 1373.76,1026.31" fill="#0a7f98"/>
<line x1="1395.3" y1="1019.03" x2="1395.3" y2="1025.09" stroke="#0a7f98" stroke-width="2.2"/>
<line x1="1391.8" y1="1019.03" x2="1398.8" y2="1019.03" stroke="#0a7f98" stroke-width="2.2"/>
<line x1="1391.8" y1="1025.09" x2="1398.8" y2="1025.09" stroke="#0a7f98" stroke-width="2.2"/>
<polygon points="1395.3,1017.92 1391.34,1024.94 1399.26,1024.94" fill="#0a7f98"/>
<polyline fill="none" stroke="#058205" stroke-width="2.6" stroke-linejoin="round" points="1114.8,1018.13 1140.3,1018.13 1165.8,1019.49 1191.3,979.22 1216.8,981.79 1242.3,983.61 1267.8,912.6 1293.3,912.6 1318.8,912.6 1344.3,1027.36 1369.8,1025.55 1395.3,1027.36"/>
<line x1="1114.8" y1="1013.58" x2="1114.8" y2="1022.67" stroke="#058205" stroke-width="2.2"/>
<line x1="1111.3" y1="1013.58" x2="1118.3" y2="1013.58" stroke="#058205" stroke-width="2.2"/>
<line x1="1111.3" y1="1022.67" x2="1118.3" y2="1022.67" stroke="#058205" stroke-width="2.2"/>
<polygon points="1114.8,1022.27 1110.84,1015.25 1118.76,1015.25" fill="#058205"/>
<line x1="1140.3" y1="1013.58" x2="1140.3" y2="1022.67" stroke="#058205" stroke-width="2.2"/>
<line x1="1136.8" y1="1013.58" x2="1143.8" y2="1013.58" stroke="#058205" stroke-width="2.2"/>
<line x1="1136.8" y1="1022.67" x2="1143.8" y2="1022.67" stroke="#058205" stroke-width="2.2"/>
<polygon points="1140.3,1022.27 1136.34,1015.25 1144.26,1015.25" fill="#058205"/>
<line x1="1165.8" y1="1014.95" x2="1165.8" y2="1024.03" stroke="#058205" stroke-width="2.2"/>
<line x1="1162.3" y1="1014.95" x2="1169.3" y2="1014.95" stroke="#058205" stroke-width="2.2"/>
<line x1="1162.3" y1="1024.03" x2="1169.3" y2="1024.03" stroke="#058205" stroke-width="2.2"/>
<polygon points="1165.8,1023.63 1161.84,1016.61 1169.76,1016.61" fill="#058205"/>
<line x1="1191.3" y1="974.67" x2="1191.3" y2="983.76" stroke="#058205" stroke-width="2.2"/>
<line x1="1187.8" y1="974.67" x2="1194.8" y2="974.67" stroke="#058205" stroke-width="2.2"/>
<line x1="1187.8" y1="983.76" x2="1194.8" y2="983.76" stroke="#058205" stroke-width="2.2"/>
<polygon points="1191.3,983.36 1187.34,976.34 1195.26,976.34" fill="#058205"/>
<line x1="1216.8" y1="977.25" x2="1216.8" y2="986.33" stroke="#058205" stroke-width="2.2"/>
<line x1="1213.3" y1="977.25" x2="1220.3" y2="977.25" stroke="#058205" stroke-width="2.2"/>
<line x1="1213.3" y1="986.33" x2="1220.3" y2="986.33" stroke="#058205" stroke-width="2.2"/>
<polygon points="1216.8,985.93 1212.84,978.91 1220.76,978.91" fill="#058205"/>
<line x1="1242.3" y1="974.52" x2="1242.3" y2="992.69" stroke="#058205" stroke-width="2.2"/>
<line x1="1238.8" y1="974.52" x2="1245.8" y2="974.52" stroke="#058205" stroke-width="2.2"/>
<line x1="1238.8" y1="992.69" x2="1245.8" y2="992.69" stroke="#058205" stroke-width="2.2"/>
<polygon points="1242.3,987.75 1238.34,980.73 1246.26,980.73" fill="#058205"/>
<line x1="1267.8" y1="905.03" x2="1267.8" y2="920.17" stroke="#058205" stroke-width="2.2"/>
<line x1="1264.3" y1="905.03" x2="1271.3" y2="905.03" stroke="#058205" stroke-width="2.2"/>
<line x1="1264.3" y1="920.17" x2="1271.3" y2="920.17" stroke="#058205" stroke-width="2.2"/>
<polygon points="1267.8,916.74 1263.84,909.72 1271.76,909.72" fill="#058205"/>
<line x1="1293.3" y1="900.49" x2="1293.3" y2="924.71" stroke="#058205" stroke-width="2.2"/>
<line x1="1289.8" y1="900.49" x2="1296.8" y2="900.49" stroke="#058205" stroke-width="2.2"/>
<line x1="1289.8" y1="924.71" x2="1296.8" y2="924.71" stroke="#058205" stroke-width="2.2"/>
<polygon points="1293.3,916.74 1289.34,909.72 1297.26,909.72" fill="#058205"/>
<line x1="1318.8" y1="908.06" x2="1318.8" y2="917.14" stroke="#058205" stroke-width="2.2"/>
<line x1="1315.3" y1="908.06" x2="1322.3" y2="908.06" stroke="#058205" stroke-width="2.2"/>
<line x1="1315.3" y1="917.14" x2="1322.3" y2="917.14" stroke="#058205" stroke-width="2.2"/>
<polygon points="1318.8,916.74 1314.84,909.72 1322.76,909.72" fill="#058205"/>
<line x1="1344.3" y1="1024.33" x2="1344.3" y2="1030.39" stroke="#058205" stroke-width="2.2"/>
<line x1="1340.8" y1="1024.33" x2="1347.8" y2="1024.33" stroke="#058205" stroke-width="2.2"/>
<line x1="1340.8" y1="1030.39" x2="1347.8" y2="1030.39" stroke="#058205" stroke-width="2.2"/>
<polygon points="1344.3,1031.5 1340.34,1024.48 1348.26,1024.48" fill="#058205"/>
<line x1="1369.8" y1="1022.52" x2="1369.8" y2="1028.57" stroke="#058205" stroke-width="2.2"/>
<line x1="1366.3" y1="1022.52" x2="1373.3" y2="1022.52" stroke="#058205" stroke-width="2.2"/>
<line x1="1366.3" y1="1028.57" x2="1373.3" y2="1028.57" stroke="#058205" stroke-width="2.2"/>
<polygon points="1369.8,1029.69 1365.84,1022.67 1373.76,1022.67" fill="#058205"/>
<line x1="1395.3" y1="1024.33" x2="1395.3" y2="1030.39" stroke="#058205" stroke-width="2.2"/>
<line x1="1391.8" y1="1024.33" x2="1398.8" y2="1024.33" stroke="#058205" stroke-width="2.2"/>
<line x1="1391.8" y1="1030.39" x2="1398.8" y2="1030.39" stroke="#058205" stroke-width="2.2"/>
<polygon points="1395.3,1031.5 1391.34,1024.48 1399.26,1024.48" fill="#058205"/>
<polyline fill="none" stroke="#c4c000" stroke-width="2.6" stroke-linejoin="round" points="1114.8,1014.19 1140.3,1015.4 1165.8,1016.31 1191.3,971.19 1216.8,975.73 1242.3,974.98 1267.8,890.19 1293.3,893.52 1318.8,895.64 1344.3,1027.36 1369.8,1027.36 1395.3,1027.36"/>
<line x1="1114.8" y1="1009.65" x2="1114.8" y2="1018.73" stroke="#c4c000" stroke-width="2.2"/>
<line x1="1111.3" y1="1009.65" x2="1118.3" y2="1009.65" stroke="#c4c000" stroke-width="2.2"/>
<line x1="1111.3" y1="1018.73" x2="1118.3" y2="1018.73" stroke="#c4c000" stroke-width="2.2"/>
<circle cx="1114.8" cy="1014.19" r="3.6" fill="#c4c000"/>
<line x1="1140.3" y1="1010.86" x2="1140.3" y2="1019.94" stroke="#c4c000" stroke-width="2.2"/>
<line x1="1136.8" y1="1010.86" x2="1143.8" y2="1010.86" stroke="#c4c000" stroke-width="2.2"/>
<line x1="1136.8" y1="1019.94" x2="1143.8" y2="1019.94" stroke="#c4c000" stroke-width="2.2"/>
<circle cx="1140.3" cy="1015.4" r="3.6" fill="#c4c000"/>
<line x1="1165.8" y1="1007.23" x2="1165.8" y2="1025.39" stroke="#c4c000" stroke-width="2.2"/>
<line x1="1162.3" y1="1007.23" x2="1169.3" y2="1007.23" stroke="#c4c000" stroke-width="2.2"/>
<line x1="1162.3" y1="1025.39" x2="1169.3" y2="1025.39" stroke="#c4c000" stroke-width="2.2"/>
<circle cx="1165.8" cy="1016.31" r="3.6" fill="#c4c000"/>
<line x1="1191.3" y1="966.65" x2="1191.3" y2="975.73" stroke="#c4c000" stroke-width="2.2"/>
<line x1="1187.8" y1="966.65" x2="1194.8" y2="966.65" stroke="#c4c000" stroke-width="2.2"/>
<line x1="1187.8" y1="975.73" x2="1194.8" y2="975.73" stroke="#c4c000" stroke-width="2.2"/>
<circle cx="1191.3" cy="971.19" r="3.6" fill="#c4c000"/>
<line x1="1216.8" y1="971.19" x2="1216.8" y2="980.28" stroke="#c4c000" stroke-width="2.2"/>
<line x1="1213.3" y1="971.19" x2="1220.3" y2="971.19" stroke="#c4c000" stroke-width="2.2"/>
<line x1="1213.3" y1="980.28" x2="1220.3" y2="980.28" stroke="#c4c000" stroke-width="2.2"/>
<circle cx="1216.8" cy="975.73" r="3.6" fill="#c4c000"/>
<line x1="1242.3" y1="970.44" x2="1242.3" y2="979.52" stroke="#c4c000" stroke-width="2.2"/>
<line x1="1238.8" y1="970.44" x2="1245.8" y2="970.44" stroke="#c4c000" stroke-width="2.2"/>
<line x1="1238.8" y1="979.52" x2="1245.8" y2="979.52" stroke="#c4c000" stroke-width="2.2"/>
<circle cx="1242.3" cy="974.98" r="3.6" fill="#c4c000"/>
<line x1="1267.8" y1="887.17" x2="1267.8" y2="893.22" stroke="#c4c000" stroke-width="2.2"/>
<line x1="1264.3" y1="887.17" x2="1271.3" y2="887.17" stroke="#c4c000" stroke-width="2.2"/>
<line x1="1264.3" y1="893.22" x2="1271.3" y2="893.22" stroke="#c4c000" stroke-width="2.2"/>
<circle cx="1267.8" cy="890.19" r="3.6" fill="#c4c000"/>
<line x1="1293.3" y1="885.95" x2="1293.3" y2="901.09" stroke="#c4c000" stroke-width="2.2"/>
<line x1="1289.8" y1="885.95" x2="1296.8" y2="885.95" stroke="#c4c000" stroke-width="2.2"/>
<line x1="1289.8" y1="901.09" x2="1296.8" y2="901.09" stroke="#c4c000" stroke-width="2.2"/>
<circle cx="1293.3" cy="893.52" r="3.6" fill="#c4c000"/>
<line x1="1318.8" y1="891.1" x2="1318.8" y2="900.19" stroke="#c4c000" stroke-width="2.2"/>
<line x1="1315.3" y1="891.1" x2="1322.3" y2="891.1" stroke="#c4c000" stroke-width="2.2"/>
<line x1="1315.3" y1="900.19" x2="1322.3" y2="900.19" stroke="#c4c000" stroke-width="2.2"/>
<circle cx="1318.8" cy="895.64" r="3.6" fill="#c4c000"/>
<line x1="1344.3" y1="1024.33" x2="1344.3" y2="1030.39" stroke="#c4c000" stroke-width="2.2"/>
<line x1="1340.8" y1="1024.33" x2="1347.8" y2="1024.33" stroke="#c4c000" stroke-width="2.2"/>
<line x1="1340.8" y1="1030.39" x2="1347.8" y2="1030.39" stroke="#c4c000" stroke-width="2.2"/>
<circle cx="1344.3" cy="1027.36" r="3.6" fill="#c4c000"/>
<line x1="1369.8" y1="1024.33" x2="1369.8" y2="1030.39" stroke="#c4c000" stroke-width="2.2"/>
<line x1="1366.3" y1="1024.33" x2="1373.3" y2="1024.33" stroke="#c4c000" stroke-width="2.2"/>
<line x1="1366.3" y1="1030.39" x2="1373.3" y2="1030.39" stroke="#c4c000" stroke-width="2.2"/>
<circle cx="1369.8" cy="1027.36" r="3.6" fill="#c4c000"/>
<line x1="1395.3" y1="1024.33" x2="1395.3" y2="1030.39" stroke="#c4c000" stroke-width="2.2"/>
<line x1="1391.8" y1="1024.33" x2="1398.8" y2="1024.33" stroke="#c4c000" stroke-width="2.2"/>
<line x1="1391.8" y1="1030.39" x2="1398.8" y2="1030.39" stroke="#c4c000" stroke-width="2.2"/>
<circle cx="1395.3" cy="1027.36" r="3.6" fill="#c4c000"/>
<line x1="1166.4" y1="946.6" x2="1166.4" y2="987.9" stroke="#000"/>
<polygon points="1160.15,985.9 1172.65,985.9 1166.4,1000.9" fill="#000"/>
<line x1="1241.1" y1="905.5" x2="1241.1" y2="946.8" stroke="#000"/>
<polygon points="1234.6,944.8 1247.6,944.8 1241.1,959.8" fill="#000"/>
<line x1="1319.8" y1="833.9" x2="1319.8" y2="875.3" stroke="#000"/>
<polygon points="1313.3,873.3 1326.3,873.3 1319.8,888.3" fill="#000"/>
<text x="1096.01" y="976.98" font-size="16.8">Glucose</text>
<text x="1210" y="938.65" font-size="17" letter-spacing="2">OM</text>
<text x="1325.34" y="866.57" font-size="16.2">2-DG</text>
<text x="1205.52" y="1110.33" font-size="21.6">Time (min)</text>
<text x="1039.5" y="1023" font-size="21.4" transform="rotate(-90 1039.5 1023)">ECAR(mPH/min)</text>
<line x1="1101" y1="798.2" x2="1125.8" y2="798.2" stroke="#c4c000" stroke-width="2.6"/>
<circle cx="1113.4" cy="798.2" r="3.4" fill="#c4c000"/>
<line x1="1101" y1="810.7" x2="1125.8" y2="810.7" stroke="#c46200" stroke-width="2.6"/>
<polygon points="1113.4,806.79 1109.66,813.42 1117.14,813.42" fill="#c46200"/>
<line x1="1101" y1="824.3" x2="1125.8" y2="824.3" stroke="#058205" stroke-width="2.6"/>
<polygon points="1113.4,828.21 1109.66,821.58 1117.14,821.58" fill="#058205"/>
<line x1="1205.6" y1="796.5" x2="1230" y2="796.5" stroke="#0a7f98" stroke-width="2.6"/>
<polygon points="1217.8,792.59 1214.06,799.22 1221.54,799.22" fill="#0a7f98"/>
<text x="1138.73" y="803.81" font-size="16.3">si-NC</text>
<text x="1242.63" y="802.11" font-size="16.3">si-LINC00202</text>
<text x="1138.73" y="816.31" font-size="16.3">si-LINC00202+vector</text>
<text x="1138.73" y="829.91" font-size="16.3">si-LINC00202+HMGCR</text>
<line x1="1638.3" y1="1054.6" x2="1638.3" y2="827.6" stroke="#000"/>
<line x1="1630.8" y1="1054.6" x2="1966.8" y2="1054.6" stroke="#000"/>
<line x1="1632.3" y1="1054.6" x2="1638.3" y2="1054.6" stroke="#000"/>
<text x="1618.34" y="1061.58" font-size="20.3">0</text>
<line x1="1632.3" y1="1009.2" x2="1638.3" y2="1009.2" stroke="#000"/>
<text x="1607.05" y="1016.18" font-size="20.3">20</text>
<line x1="1632.3" y1="963.8" x2="1638.3" y2="963.8" stroke="#000"/>
<text x="1607.05" y="970.78" font-size="20.3">40</text>
<line x1="1632.3" y1="918.4" x2="1638.3" y2="918.4" stroke="#000"/>
<text x="1607.05" y="925.38" font-size="20.3">60</text>
<line x1="1632.3" y1="873" x2="1638.3" y2="873" stroke="#000"/>
<text x="1607.05" y="879.98" font-size="20.3">80</text>
<line x1="1632.3" y1="827.6" x2="1638.3" y2="827.6" stroke="#000"/>
<text x="1595.76" y="834.58" font-size="20.3">100</text>
<line x1="1689.6" y1="1054.6" x2="1689.6" y2="1060.6" stroke="#000"/>
<line x1="1801.5" y1="1054.6" x2="1801.5" y2="1060.6" stroke="#000"/>
<line x1="1913.3" y1="1054.6" x2="1913.3" y2="1060.6" stroke="#000"/>
<line x1="1653.6" y1="974.01" x2="1653.6" y2="969.93" stroke="#000"/>
<line x1="1649.4" y1="969.93" x2="1657.8" y2="969.93" stroke="#000"/>
<rect x="1646.2" y="974.01" width="14.8" height="80.59" fill="#c4c000" stroke="#000" stroke-width="2" />
<line x1="1678.3" y1="1001.03" x2="1678.3" y2="999.44" stroke="#000"/>
<line x1="1674.15" y1="999.44" x2="1682.45" y2="999.44" stroke="#000"/>
<rect x="1671" y="1001.03" width="14.6" height="53.57" fill="#0a7f98" stroke="#000" stroke-width="2" />
<line x1="1702.05" y1="998.76" x2="1702.05" y2="995.13" stroke="#000"/>
<line x1="1697.92" y1="995.13" x2="1706.17" y2="995.13" stroke="#000"/>
<rect x="1694.8" y="998.76" width="14.5" height="55.84" fill="#c46200" stroke="#000" stroke-width="2" />
<line x1="1726.1" y1="987.18" x2="1726.1" y2="984.91" stroke="#000"/>
<line x1="1721.95" y1="984.91" x2="1730.25" y2="984.91" stroke="#000"/>
<rect x="1718.8" y="987.18" width="14.6" height="67.42" fill="#058205" stroke="#000" stroke-width="2" />
<line x1="1766.1" y1="852.34" x2="1766.1" y2="847.8" stroke="#000"/>
<line x1="1761.95" y1="847.8" x2="1770.25" y2="847.8" stroke="#000"/>
<rect x="1758.8" y="852.34" width="14.6" height="202.26" fill="#c4c000" stroke="#000" stroke-width="2" />
<line x1="1790.1" y1="920.9" x2="1790.1" y2="917.26" stroke="#000"/>
<line x1="1785.95" y1="917.26" x2="1794.25" y2="917.26" stroke="#000"/>
<rect x="1782.8" y="920.9" width="14.6" height="133.7" fill="#0a7f98" stroke="#000" stroke-width="2" />
<line x1="1814.15" y1="924.98" x2="1814.15" y2="922.94" stroke="#000"/>
<line x1="1809.88" y1="922.94" x2="1818.43" y2="922.94" stroke="#000"/>
<rect x="1806.6" y="924.98" width="15.1" height="129.62" fill="#c46200" stroke="#000" stroke-width="2" />
<line x1="1838.15" y1="883.44" x2="1838.15" y2="874.59" stroke="#000"/>
<line x1="1833.88" y1="874.59" x2="1842.43" y2="874.59" stroke="#000"/>
<rect x="1830.6" y="883.44" width="15.1" height="171.16" fill="#058205" stroke="#000" stroke-width="2" />
<line x1="1877.9" y1="932.47" x2="1877.9" y2="928.84" stroke="#000"/>
<line x1="1873.75" y1="928.84" x2="1882.05" y2="928.84" stroke="#000"/>
<rect x="1870.6" y="932.47" width="14.6" height="122.13" fill="#c4c000" stroke="#000" stroke-width="2" />
<line x1="1902.2" y1="974.47" x2="1902.2" y2="968.34" stroke="#000"/>
<line x1="1898.05" y1="968.34" x2="1906.35" y2="968.34" stroke="#000"/>
<rect x="1894.9" y="974.47" width="14.6" height="80.13" fill="#0a7f98" stroke="#000" stroke-width="2" />
<line x1="1925.7" y1="980.37" x2="1925.7" y2="978.1" stroke="#000"/>
<line x1="1921.55" y1="978.1" x2="1929.85" y2="978.1" stroke="#000"/>
<rect x="1918.4" y="980.37" width="14.6" height="74.23" fill="#c46200" stroke="#000" stroke-width="2" />
<line x1="1949.95" y1="949.95" x2="1949.95" y2="941.55" stroke="#000"/>
<line x1="1945.68" y1="941.55" x2="1954.22" y2="941.55" stroke="#000"/>
<rect x="1942.4" y="949.95" width="15.1" height="104.65" fill="#058205" stroke="#000" stroke-width="2" />
<line x1="1655.7" y1="963.8" x2="1679.7" y2="963.8" stroke="#000"/>
<text x="1651.32" y="968" font-size="26.5" font-weight="normal" letter-spacing="2.5" stroke="#000" stroke-width="0.7">***</text>
<line x1="1701.2" y1="977.6" x2="1725.3" y2="977.6" stroke="#000"/>
<text x="1707.39" y="980.9" font-size="26.5" font-weight="normal" letter-spacing="2.5" stroke="#000" stroke-width="0.7">*</text>
<line x1="1766.1" y1="842" x2="1790.4" y2="842" stroke="#000"/>
<text x="1761.22" y="847.9" font-size="26.5" font-weight="normal" letter-spacing="2.5" stroke="#000" stroke-width="0.7">***</text>
<line x1="1813.1" y1="869.1" x2="1836.5" y2="869.1" stroke="#000"/>
<text x="1807.82" y="872.7" font-size="26.5" font-weight="normal" letter-spacing="2.5" stroke="#000" stroke-width="0.7">***</text>
<line x1="1876.5" y1="922.4" x2="1900.6" y2="922.4" stroke="#000"/>
<text x="1871.62" y="926.6" font-size="26.5" font-weight="normal" letter-spacing="2.5" stroke="#000" stroke-width="0.7">***</text>
<line x1="1923.5" y1="934.8" x2="1947.5" y2="934.8" stroke="#000"/>
<text x="1917.22" y="939.8" font-size="26.5" font-weight="normal" letter-spacing="2.5" stroke="#000" stroke-width="0.7">***</text>
<rect x="1652.5" y="782.3" width="23.7" height="7.7" fill="#c4c000" stroke="#000" stroke-width="2" />
<rect x="1754.7" y="782.3" width="22.8" height="7.7" fill="#0a7f98" stroke="#000" stroke-width="2" />
<rect x="1652.5" y="798.9" width="23.7" height="7.1" fill="#c46200" stroke="#000" stroke-width="2" />
<rect x="1652.5" y="814.3" width="23.7" height="7.4" fill="#058205" stroke="#000" stroke-width="2" />
<text x="1689.62" y="791.83" font-size="16.5">si-NC</text>
<text x="1791.72" y="791.83" font-size="16.5">si-LINC00202</text>
<text x="1689.62" y="808.13" font-size="16.5">si-LINC00202+vector</text>
<text x="1689.62" y="823.68" font-size="16.5">si-LINC00202+HMGCR</text>
<text x="1642.57" y="1079.97" font-size="18.8">Glycolysis</text>
<text x="1753.66" y="1079.97" font-size="18.8">Glycolytic</text>
<text x="1763.56" y="1100.97" font-size="18.8">capacity</text>
<text x="1865.46" y="1079.97" font-size="18.8">Glycolytic</text>
<text x="1879.55" y="1102.47" font-size="18.8">reverse</text>
<text x="1587.8" y="1024.9" font-size="21.4" transform="rotate(-90 1587.8 1024.9)">ECAR(mPH/min)</text>
<text x="3.46" y="1144.01" font-size="33">(g)</text>
<text x="468.57" y="1149.01" font-size="23">Y79</text>
<line x1="329.2" y1="1156.1" x2="628.8" y2="1156.1" stroke="#000" stroke-width="3.5"/>
<text x="1380.1" y="1148.28" font-size="22.9">HXO-RB44</text>
<line x1="1272.2" y1="1154.9" x2="1571.9" y2="1154.9" stroke="#000" stroke-width="3.5"/>
<rect x="134.2" y="1169.9" width="318.7" height="41.8" fill="#c0c0c0" stroke="none" />
<rect x="154.45" y="1181.47" width="55.5" height="20.87" rx="10.44" fill="#000" opacity="0.13" filter="url(#bl2)"/>
<g fill="#050505" filter="url(#bl)"><ellipse cx="165.18" cy="1191.9" rx="8.73" ry="7.94"/><ellipse cx="199.22" cy="1191.9" rx="8.73" ry="7.94"/><rect x="165.18" y="1184.6" width="34.04" height="14.6"/></g>
<rect x="228.35" y="1184.71" width="57.5" height="15.57" rx="7.79" fill="#000" opacity="0.13" filter="url(#bl2)"/>
<g fill="#050505" filter="url(#bl)"><ellipse cx="236.16" cy="1192.5" rx="5.81" ry="5.29"/><ellipse cx="278.04" cy="1192.5" rx="5.81" ry="5.29"/><rect x="236.16" y="1187.64" width="41.87" height="9.72"/></g>
<rect x="305.65" y="1183.95" width="55.5" height="16.1" rx="8.05" fill="#000" opacity="0.13" filter="url(#bl2)"/>
<g fill="#050505" filter="url(#bl)"><ellipse cx="313.75" cy="1192" rx="6.11" ry="5.55"/><ellipse cx="353.04" cy="1192" rx="6.11" ry="5.55"/><rect x="313.75" y="1186.89" width="39.29" height="10.21"/></g>
<rect x="379.15" y="1181.65" width="55.5" height="17.69" rx="8.85" fill="#000" opacity="0.13" filter="url(#bl2)"/>
<g fill="#050505" filter="url(#bl)"><ellipse cx="388.13" cy="1190.5" rx="6.98" ry="6.35"/><ellipse cx="425.67" cy="1190.5" rx="6.98" ry="6.35"/><rect x="388.13" y="1184.66" width="37.54" height="11.67"/></g>
<rect x="134.2" y="1217.4" width="318.7" height="41.5" fill="#c6c6c6" stroke="none" />
<rect x="152.45" y="1231.15" width="59.5" height="17.69" rx="8.85" fill="#000" opacity="0.13" filter="url(#bl2)"/>
<g fill="#050505" filter="url(#bl)"><ellipse cx="161.43" cy="1240" rx="6.98" ry="6.35"/><ellipse cx="202.97" cy="1240" rx="6.98" ry="6.35"/><rect x="161.43" y="1234.16" width="41.54" height="11.67"/></g>
<rect x="227.35" y="1231.15" width="59.5" height="17.69" rx="8.85" fill="#000" opacity="0.13" filter="url(#bl2)"/>
<g fill="#050505" filter="url(#bl)"><ellipse cx="236.33" cy="1240" rx="6.98" ry="6.35"/><ellipse cx="277.87" cy="1240" rx="6.98" ry="6.35"/><rect x="236.33" y="1234.16" width="41.54" height="11.67"/></g>
<rect x="303.65" y="1231.15" width="59.5" height="17.69" rx="8.85" fill="#000" opacity="0.13" filter="url(#bl2)"/>
<g fill="#050505" filter="url(#bl)"><ellipse cx="312.63" cy="1240" rx="6.98" ry="6.35"/><ellipse cx="354.17" cy="1240" rx="6.98" ry="6.35"/><rect x="312.63" y="1234.16" width="41.54" height="11.67"/></g>
<rect x="378.15" y="1230.15" width="57.5" height="17.69" rx="8.85" fill="#000" opacity="0.13" filter="url(#bl2)"/>
<g fill="#050505" filter="url(#bl)"><ellipse cx="387.13" cy="1239" rx="6.98" ry="6.35"/><ellipse cx="426.67" cy="1239" rx="6.98" ry="6.35"/><rect x="387.13" y="1233.16" width="39.54" height="11.67"/></g>
<rect x="134.2" y="1262.6" width="318.7" height="42.4" fill="#bfbfbf" stroke="none" />
<rect x="152.45" y="1274.24" width="59.5" height="14.51" rx="7.25" fill="#000" opacity="0.13" filter="url(#bl2)"/>
<g fill="#050505" filter="url(#bl)"><ellipse cx="159.68" cy="1281.5" rx="5.23" ry="4.75"/><ellipse cx="204.72" cy="1281.5" rx="5.23" ry="4.75"/><rect x="159.68" y="1277.13" width="45.04" height="8.75"/></g>
<rect x="225.85" y="1272.51" width="62.5" height="22.99" rx="11.5" fill="#000" opacity="0.13" filter="url(#bl2)"/>
<g fill="#050505" filter="url(#bl)"><ellipse cx="237.74" cy="1284" rx="9.89" ry="9"/><ellipse cx="276.46" cy="1284" rx="9.89" ry="9"/><rect x="237.74" y="1275.72" width="38.71" height="16.55"/></g>
<rect x="303.15" y="1272.51" width="60.5" height="22.99" rx="11.5" fill="#000" opacity="0.13" filter="url(#bl2)"/>
<g fill="#050505" filter="url(#bl)"><ellipse cx="315.04" cy="1284" rx="9.89" ry="9"/><ellipse cx="351.76" cy="1284" rx="9.89" ry="9"/><rect x="315.04" y="1275.72" width="36.71" height="16.55"/></g>
<rect x="378.15" y="1274.68" width="57.5" height="16.63" rx="8.32" fill="#000" opacity="0.13" filter="url(#bl2)"/>
<g fill="#050505" filter="url(#bl)"><ellipse cx="386.55" cy="1283" rx="6.4" ry="5.82"/><ellipse cx="427.25" cy="1283" rx="6.4" ry="5.82"/><rect x="386.55" y="1277.65" width="40.71" height="10.7"/></g>
<rect x="134.2" y="1309.2" width="318.7" height="42.4" fill="#c0c0c0" stroke="none" />
<rect x="151.45" y="1322.12" width="61.5" height="18.75" rx="9.38" fill="#000" opacity="0.13" filter="url(#bl2)"/>
<g fill="#050505" filter="url(#bl)"><ellipse cx="161.01" cy="1331.5" rx="7.56" ry="6.88"/><ellipse cx="203.39" cy="1331.5" rx="7.56" ry="6.88"/><rect x="161.01" y="1325.17" width="42.38" height="12.65"/></g>
<rect x="226.35" y="1325.78" width="61.5" height="13.45" rx="6.72" fill="#000" opacity="0.13" filter="url(#bl2)"/>
<g fill="#050505" filter="url(#bl)"><ellipse cx="233" cy="1332.5" rx="4.65" ry="4.22"/><ellipse cx="281.2" cy="1332.5" rx="4.65" ry="4.22"/><rect x="233" y="1328.61" width="48.2" height="7.77"/></g>
<rect x="304.65" y="1324.74" width="57.5" height="14.51" rx="7.25" fill="#000" opacity="0.13" filter="url(#bl2)"/>
<g fill="#050505" filter="url(#bl)"><ellipse cx="311.88" cy="1332" rx="5.23" ry="4.75"/><ellipse cx="354.92" cy="1332" rx="5.23" ry="4.75"/><rect x="311.88" y="1327.63" width="43.04" height="8.75"/></g>
<rect x="376.15" y="1321.62" width="61.5" height="18.75" rx="9.38" fill="#000" opacity="0.13" filter="url(#bl2)"/>
<g fill="#050505" filter="url(#bl)"><ellipse cx="385.71" cy="1331" rx="7.56" ry="6.88"/><ellipse cx="428.09" cy="1331" rx="7.56" ry="6.88"/><rect x="385.71" y="1324.67" width="42.38" height="12.65"/></g>
<rect x="134.2" y="1355.2" width="318.7" height="42.4" fill="#bcbcbc" stroke="none" />
<rect x="150.45" y="1365.51" width="63.5" height="22.99" rx="11.5" fill="#000" opacity="0.13" filter="url(#bl2)"/>
<g fill="#050505" filter="url(#bl)"><ellipse cx="162.34" cy="1377" rx="9.89" ry="9"/><ellipse cx="202.06" cy="1377" rx="9.89" ry="9"/><rect x="162.34" y="1368.72" width="39.71" height="16.55"/></g>
<rect x="225.35" y="1367.01" width="63.5" height="22.99" rx="11.5" fill="#000" opacity="0.13" filter="url(#bl2)"/>
<g fill="#050505" filter="url(#bl)"><ellipse cx="237.24" cy="1378.5" rx="9.89" ry="9"/><ellipse cx="276.96" cy="1378.5" rx="9.89" ry="9"/><rect x="237.24" y="1370.22" width="39.71" height="16.55"/></g>
<rect x="302.65" y="1365.51" width="61.5" height="22.99" rx="11.5" fill="#000" opacity="0.13" filter="url(#bl2)"/>
<g fill="#050505" filter="url(#bl)"><ellipse cx="314.54" cy="1377" rx="9.89" ry="9"/><ellipse cx="352.26" cy="1377" rx="9.89" ry="9"/><rect x="314.54" y="1368.72" width="37.71" height="16.55"/></g>
<rect x="375.15" y="1366.51" width="63.5" height="22.99" rx="11.5" fill="#000" opacity="0.13" filter="url(#bl2)"/>
<g fill="#050505" filter="url(#bl)"><ellipse cx="387.04" cy="1378" rx="9.89" ry="9"/><ellipse cx="426.76" cy="1378" rx="9.89" ry="9"/><rect x="387.04" y="1369.72" width="39.71" height="16.55"/></g>
<text x="80.29" y="1197.61" font-size="23" letter-spacing="0.55">ki67</text>
<text x="52.68" y="1245.01" font-size="23" letter-spacing="0.71">pro-c3</text>
<text x="1.4" y="1290.21" font-size="23" letter-spacing="0.83">cleaved-c3</text>
<text x="65.66" y="1338.31" font-size="23" letter-spacing="-1.08">LDHA</text>
<text x="47.06" y="1384.91" font-size="23" letter-spacing="-0.72">GAPDH</text>
<text x="460.58" y="1197.81" font-size="22.7">359KDa</text>
<text x="460.58" y="1243.51" font-size="22.7">35KDa</text>
<text x="459.67" y="1290.71" font-size="22.7">17KDa</text>
<text x="460.58" y="1342.41" font-size="22.7">39KDa</text>
<text x="460.58" y="1390.41" font-size="22.7">36KDa</text>
<text x="140.77" y="1448.27" font-size="23" transform="rotate(-29.5 140.77 1448.27)">si-NC</text>
<text x="151.57" y="1487.68" font-size="23" transform="rotate(-29.5 151.57 1487.68)">si-LINC00202</text>
<text x="148.3" y="1530.57" font-size="23" transform="rotate(-29.5 148.3 1530.57)">si-LINC00202+vector</text>
<text x="201.88" y="1542.3" font-size="23" transform="rotate(-29.5 201.88 1542.3)">si-LINC00202+HMGCR</text>
<rect x="1156.4" y="1170.8" width="318.5" height="42.9" fill="#bcbcbc" stroke="none" />
<rect x="1174.95" y="1179.16" width="55.5" height="20.87" rx="10.44" fill="#000" opacity="0.13" filter="url(#bl2)"/>
<g fill="#050505" filter="url(#bl)"><ellipse cx="1185.68" cy="1189.6" rx="8.73" ry="7.94"/><ellipse cx="1219.72" cy="1189.6" rx="8.73" ry="7.94"/><rect x="1185.68" y="1182.3" width="34.04" height="14.6"/></g>
<rect x="1248.35" y="1182.71" width="53.5" height="15.57" rx="7.79" fill="#000" opacity="0.13" filter="url(#bl2)"/>
<g fill="#050505" filter="url(#bl)"><ellipse cx="1256.16" cy="1190.5" rx="5.81" ry="5.29"/><ellipse cx="1294.04" cy="1190.5" rx="5.81" ry="5.29"/><rect x="1256.16" y="1185.64" width="37.87" height="9.72"/></g>
<rect x="1323.65" y="1181.81" width="53.5" height="15.57" rx="7.79" fill="#000" opacity="0.13" filter="url(#bl2)"/>
<g fill="#050505" filter="url(#bl)"><ellipse cx="1331.46" cy="1189.6" rx="5.81" ry="5.29"/><ellipse cx="1369.34" cy="1189.6" rx="5.81" ry="5.29"/><rect x="1331.46" y="1184.74" width="37.87" height="9.72"/></g>
<rect x="1401.85" y="1179.1" width="53.5" height="19.81" rx="9.91" fill="#000" opacity="0.13" filter="url(#bl2)"/>
<g fill="#050505" filter="url(#bl)"><ellipse cx="1412" cy="1189" rx="8.15" ry="7.41"/><ellipse cx="1445.2" cy="1189" rx="8.15" ry="7.41"/><rect x="1412" y="1182.19" width="33.21" height="13.63"/></g>
<rect x="1156.4" y="1218.6" width="318.5" height="42.6" fill="#c0c0c0" stroke="none" />
<rect x="1174.95" y="1229.87" width="55.5" height="20.87" rx="10.44" fill="#000" opacity="0.13" filter="url(#bl2)"/>
<g fill="#050505" filter="url(#bl)"><ellipse cx="1185.68" cy="1240.3" rx="8.73" ry="7.94"/><ellipse cx="1219.72" cy="1240.3" rx="8.73" ry="7.94"/><rect x="1185.68" y="1233" width="34.04" height="14.6"/></g>
<rect x="1246.35" y="1230.39" width="57.5" height="19.81" rx="9.91" fill="#000" opacity="0.13" filter="url(#bl2)"/>
<g fill="#050505" filter="url(#bl)"><ellipse cx="1256.5" cy="1240.3" rx="8.15" ry="7.41"/><ellipse cx="1293.7" cy="1240.3" rx="8.15" ry="7.41"/><rect x="1256.5" y="1233.49" width="37.21" height="13.63"/></g>
<rect x="1322.65" y="1231.1" width="55.5" height="19.81" rx="9.91" fill="#000" opacity="0.13" filter="url(#bl2)"/>
<g fill="#050505" filter="url(#bl)"><ellipse cx="1332.8" cy="1241" rx="8.15" ry="7.41"/><ellipse cx="1368" cy="1241" rx="8.15" ry="7.41"/><rect x="1332.8" y="1234.19" width="35.21" height="13.63"/></g>
<rect x="1399.85" y="1231.1" width="57.5" height="19.81" rx="9.91" fill="#000" opacity="0.13" filter="url(#bl2)"/>
<g fill="#050505" filter="url(#bl)"><ellipse cx="1410" cy="1241" rx="8.15" ry="7.41"/><ellipse cx="1447.2" cy="1241" rx="8.15" ry="7.41"/><rect x="1410" y="1234.19" width="37.21" height="13.63"/></g>
<rect x="1156.4" y="1266.4" width="318.5" height="42.8" fill="#bcbcbc" stroke="none" />
<rect x="1175.95" y="1282.21" width="53.5" height="15.57" rx="7.79" fill="#000" opacity="0.13" filter="url(#bl2)"/>
<g fill="#050505" filter="url(#bl)"><ellipse cx="1183.76" cy="1290" rx="5.81" ry="5.29"/><ellipse cx="1221.64" cy="1290" rx="5.81" ry="5.29"/><rect x="1183.76" y="1285.14" width="37.87" height="9.72"/></g>
<rect x="1247.35" y="1278.57" width="55.5" height="20.87" rx="10.44" fill="#000" opacity="0.13" filter="url(#bl2)"/>
<g fill="#050505" filter="url(#bl)"><ellipse cx="1258.08" cy="1289" rx="8.73" ry="7.94"/><ellipse cx="1292.12" cy="1289" rx="8.73" ry="7.94"/><rect x="1258.08" y="1281.7" width="34.04" height="14.6"/></g>
<rect x="1322.65" y="1279.57" width="55.5" height="20.87" rx="10.44" fill="#000" opacity="0.13" filter="url(#bl2)"/>
<g fill="#050505" filter="url(#bl)"><ellipse cx="1333.38" cy="1290" rx="8.73" ry="7.94"/><ellipse cx="1367.42" cy="1290" rx="8.73" ry="7.94"/><rect x="1333.38" y="1282.7" width="34.04" height="14.6"/></g>
<rect x="1401.85" y="1282.21" width="53.5" height="15.57" rx="7.79" fill="#000" opacity="0.13" filter="url(#bl2)"/>
<g fill="#050505" filter="url(#bl)"><ellipse cx="1409.66" cy="1290" rx="5.81" ry="5.29"/><ellipse cx="1447.54" cy="1290" rx="5.81" ry="5.29"/><rect x="1409.66" y="1285.14" width="37.87" height="9.72"/></g>
<rect x="1156.4" y="1313.6" width="318.5" height="42.5" fill="#c8c8c8" stroke="none" />
<rect x="1174.95" y="1328.37" width="55.5" height="20.87" rx="10.44" fill="#000" opacity="0.13" filter="url(#bl2)"/>
<g fill="#050505" filter="url(#bl)"><ellipse cx="1185.68" cy="1338.8" rx="8.73" ry="7.94"/><ellipse cx="1219.72" cy="1338.8" rx="8.73" ry="7.94"/><rect x="1185.68" y="1331.5" width="34.04" height="14.6"/></g>
<rect x="1248.35" y="1331.71" width="53.5" height="15.57" rx="7.79" fill="#000" opacity="0.13" filter="url(#bl2)"/>
<g fill="#050505" filter="url(#bl)"><ellipse cx="1256.16" cy="1339.5" rx="5.81" ry="5.29"/><ellipse cx="1294.04" cy="1339.5" rx="5.81" ry="5.29"/><rect x="1256.16" y="1334.64" width="37.87" height="9.72"/></g>
<rect x="1323.65" y="1332.74" width="53.5" height="14.51" rx="7.25" fill="#000" opacity="0.13" filter="url(#bl2)"/>
<g fill="#050505" filter="url(#bl)"><ellipse cx="1330.88" cy="1340" rx="5.23" ry="4.75"/><ellipse cx="1369.92" cy="1340" rx="5.23" ry="4.75"/><rect x="1330.88" y="1335.63" width="39.04" height="8.75"/></g>
<rect x="1400.85" y="1328.6" width="55.5" height="19.81" rx="9.91" fill="#000" opacity="0.13" filter="url(#bl2)"/>
<g fill="#050505" filter="url(#bl)"><ellipse cx="1411" cy="1338.5" rx="8.15" ry="7.41"/><ellipse cx="1446.2" cy="1338.5" rx="8.15" ry="7.41"/><rect x="1411" y="1331.69" width="35.21" height="13.63"/></g>
<rect x="1156.4" y="1361.9" width="318.5" height="43.5" fill="#b9b9b9" stroke="none" />
<rect x="1173.95" y="1374.47" width="57.5" height="24.05" rx="12.03" fill="#000" opacity="0.13" filter="url(#bl2)"/>
<g fill="#050505" filter="url(#bl)"><ellipse cx="1186.43" cy="1386.5" rx="10.48" ry="9.53"/><ellipse cx="1218.97" cy="1386.5" rx="10.48" ry="9.53"/><rect x="1186.43" y="1377.74" width="32.55" height="17.53"/></g>
<rect x="1245.35" y="1374.47" width="59.5" height="24.05" rx="12.03" fill="#000" opacity="0.13" filter="url(#bl2)"/>
<g fill="#050505" filter="url(#bl)"><ellipse cx="1257.83" cy="1386.5" rx="10.48" ry="9.53"/><ellipse cx="1292.37" cy="1386.5" rx="10.48" ry="9.53"/><rect x="1257.83" y="1377.74" width="34.55" height="17.53"/></g>
<rect x="1320.65" y="1375.01" width="59.5" height="22.99" rx="11.5" fill="#000" opacity="0.13" filter="url(#bl2)"/>
<g fill="#050505" filter="url(#bl)"><ellipse cx="1332.54" cy="1386.5" rx="9.89" ry="9"/><ellipse cx="1368.26" cy="1386.5" rx="9.89" ry="9"/><rect x="1332.54" y="1378.22" width="35.71" height="16.55"/></g>
<rect x="1399.85" y="1374.47" width="57.5" height="24.05" rx="12.03" fill="#000" opacity="0.13" filter="url(#bl2)"/>
<g fill="#050505" filter="url(#bl)"><ellipse cx="1412.33" cy="1386.5" rx="10.48" ry="9.53"/><ellipse cx="1444.87" cy="1386.5" rx="10.48" ry="9.53"/><rect x="1412.33" y="1377.74" width="32.55" height="17.53"/></g>
<text x="1090.49" y="1197.51" font-size="23" letter-spacing="0.15">ki67</text>
<text x="1059.88" y="1246.81" font-size="23" letter-spacing="0.77">pro-c3</text>
<text x="1021.7" y="1296.01" font-size="23" letter-spacing="0.85">cleaved-c3</text>
<text x="1085.86" y="1348.11" font-size="23" letter-spacing="-0.98">LDHA</text>
<text x="1071.46" y="1396.51" font-size="23" letter-spacing="-0.59">GAPDH</text>
<text x="1480.78" y="1194.51" font-size="22.7">359KDa</text>
<text x="1480.78" y="1246.11" font-size="22.7">35KDa</text>
<text x="1479.87" y="1296.81" font-size="22.7">17KDa</text>
<text x="1480.78" y="1348.01" font-size="22.7">39KDa</text>
<text x="1480.78" y="1396.41" font-size="22.7">36KDa</text>
<text x="1156.27" y="1455.27" font-size="23" transform="rotate(-29.5 1156.27 1455.27)">si-NC</text>
<text x="1159.07" y="1495.68" font-size="23" transform="rotate(-29.5 1159.07 1495.68)">si-LINC00202</text>
<text x="1163.8" y="1535.57" font-size="23" transform="rotate(-29.5 1163.8 1535.57)">si-LINC00202+vector</text>
<text x="1229.38" y="1549.3" font-size="23" transform="rotate(-29.5 1229.38 1549.3)">si-LINC00202+HMGCR</text>
<line x1="617.8" y1="1445.8" x2="617.8" y2="1218.05" stroke="#000"/>
<line x1="611.4" y1="1445.8" x2="957.9" y2="1445.8" stroke="#000"/>
<line x1="611.8" y1="1445.8" x2="617.8" y2="1445.8" stroke="#000"/>
<text x="581.59" y="1452.61" font-size="19.8">0.0</text>
<line x1="611.8" y1="1400.25" x2="617.8" y2="1400.25" stroke="#000"/>
<text x="581.33" y="1407.06" font-size="19.8">0.5</text>
<line x1="611.8" y1="1354.7" x2="617.8" y2="1354.7" stroke="#000"/>
<text x="581.59" y="1361.51" font-size="19.8">1.0</text>
<line x1="611.8" y1="1309.15" x2="617.8" y2="1309.15" stroke="#000"/>
<text x="581.33" y="1315.96" font-size="19.8">1.5</text>
<line x1="611.8" y1="1263.6" x2="617.8" y2="1263.6" stroke="#000"/>
<text x="581.59" y="1270.41" font-size="19.8">2.0</text>
<line x1="611.8" y1="1218.05" x2="617.8" y2="1218.05" stroke="#000"/>
<text x="581.33" y="1224.86" font-size="19.8">2.5</text>
<line x1="657.5" y1="1445.8" x2="657.5" y2="1451.8" stroke="#000"/>
<line x1="744" y1="1445.8" x2="744" y2="1451.8" stroke="#000"/>
<line x1="830.4" y1="1445.8" x2="830.4" y2="1451.8" stroke="#000"/>
<line x1="916.5" y1="1445.8" x2="916.5" y2="1451.8" stroke="#000"/>
<line x1="629.8" y1="1354.7" x2="629.8" y2="1346.96" stroke="#000"/>
<line x1="626.55" y1="1346.96" x2="633.05" y2="1346.96" stroke="#000"/>
<rect x="624.3" y="1354.7" width="11" height="91.1" fill="#c4c000" stroke="#000" stroke-width="2" />
<line x1="648.3" y1="1386.4" x2="648.3" y2="1380.12" stroke="#000"/>
<line x1="645.05" y1="1380.12" x2="651.55" y2="1380.12" stroke="#000"/>
<rect x="642.8" y="1386.4" width="11" height="59.4" fill="#0a7f98" stroke="#000" stroke-width="2" />
<line x1="666.95" y1="1390.59" x2="666.95" y2="1385.04" stroke="#000"/>
<line x1="663.62" y1="1385.04" x2="670.28" y2="1385.04" stroke="#000"/>
<rect x="661.3" y="1390.59" width="11.3" height="55.21" fill="#c46200" stroke="#000" stroke-width="2" />
<line x1="685.7" y1="1362.99" x2="685.7" y2="1355.25" stroke="#000"/>
<line x1="682.4" y1="1355.25" x2="689" y2="1355.25" stroke="#000"/>
<rect x="680.1" y="1362.99" width="11.2" height="82.81" fill="#058205" stroke="#000" stroke-width="2" />
<line x1="716.35" y1="1354.7" x2="716.35" y2="1345.04" stroke="#000"/>
<line x1="713.17" y1="1345.04" x2="719.53" y2="1345.04" stroke="#000"/>
<rect x="711" y="1354.7" width="10.7" height="91.1" fill="#c4c000" stroke="#000" stroke-width="2" />
<line x1="734.7" y1="1366.54" x2="734.7" y2="1358.8" stroke="#000"/>
<line x1="731.45" y1="1358.8" x2="737.95" y2="1358.8" stroke="#000"/>
<rect x="729.2" y="1366.54" width="11" height="79.26" fill="#0a7f98" stroke="#000" stroke-width="2" />
<line x1="753.2" y1="1364.36" x2="753.2" y2="1356.89" stroke="#000"/>
<line x1="749.95" y1="1356.89" x2="756.45" y2="1356.89" stroke="#000"/>
<rect x="747.7" y="1364.36" width="11" height="81.44" fill="#c46200" stroke="#000" stroke-width="2" />
<line x1="772" y1="1358.25" x2="772" y2="1349.69" stroke="#000"/>
<line x1="768.75" y1="1349.69" x2="775.25" y2="1349.69" stroke="#000"/>
<rect x="766.5" y="1358.25" width="11" height="87.55" fill="#058205" stroke="#000" stroke-width="2" />
<line x1="802.9" y1="1354.7" x2="802.9" y2="1346.41" stroke="#000"/>
<line x1="799.65" y1="1346.41" x2="806.15" y2="1346.41" stroke="#000"/>
<rect x="797.4" y="1354.7" width="11" height="91.1" fill="#c4c000" stroke="#000" stroke-width="2" />
<line x1="821.25" y1="1256.68" x2="821.25" y2="1241.01" stroke="#000"/>
<line x1="818.08" y1="1241.01" x2="824.42" y2="1241.01" stroke="#000"/>
<rect x="815.9" y="1256.68" width="10.7" height="189.12" fill="#0a7f98" stroke="#000" stroke-width="2" />
<line x1="839.6" y1="1261.41" x2="839.6" y2="1245.65" stroke="#000"/>
<line x1="836.35" y1="1245.65" x2="842.85" y2="1245.65" stroke="#000"/>
<rect x="834.1" y="1261.41" width="11" height="184.39" fill="#c46200" stroke="#000" stroke-width="2" />
<line x1="858.1" y1="1340.85" x2="858.1" y2="1332.65" stroke="#000"/>
<line x1="854.85" y1="1332.65" x2="861.35" y2="1332.65" stroke="#000"/>
<rect x="852.6" y="1340.85" width="11" height="104.95" fill="#058205" stroke="#000" stroke-width="2" />
<line x1="889.3" y1="1354.7" x2="889.3" y2="1344.22" stroke="#000"/>
<line x1="886.05" y1="1344.22" x2="892.55" y2="1344.22" stroke="#000"/>
<rect x="883.8" y="1354.7" width="11" height="91.1" fill="#c4c000" stroke="#000" stroke-width="2" />
<line x1="907.8" y1="1402.44" x2="907.8" y2="1398.88" stroke="#000"/>
<line x1="904.55" y1="1398.88" x2="911.05" y2="1398.88" stroke="#000"/>
<rect x="902.3" y="1402.44" width="11" height="43.36" fill="#0a7f98" stroke="#000" stroke-width="2" />
<line x1="926.15" y1="1400.25" x2="926.15" y2="1396.15" stroke="#000"/>
<line x1="922.97" y1="1396.15" x2="929.33" y2="1396.15" stroke="#000"/>
<rect x="920.8" y="1400.25" width="10.7" height="45.55" fill="#c46200" stroke="#000" stroke-width="2" />
<line x1="945.1" y1="1369.09" x2="945.1" y2="1361.62" stroke="#000"/>
<line x1="941.85" y1="1361.62" x2="948.35" y2="1361.62" stroke="#000"/>
<rect x="939.6" y="1369.09" width="11" height="76.71" fill="#058205" stroke="#000" stroke-width="2" />
<line x1="630" y1="1340.3" x2="648.2" y2="1340.3" stroke="#000"/>
<text x="627.97" y="1346.15" font-size="27" letter-spacing="1">**</text>
<line x1="669.4" y1="1347.8" x2="686.8" y2="1347.8" stroke="#000"/>
<text x="672.52" y="1353.85" font-size="27" letter-spacing="1">*</text>
<line x1="803.3" y1="1233.7" x2="821.3" y2="1233.7" stroke="#000"/>
<text x="794.21" y="1241.25" font-size="27" letter-spacing="1">***</text>
<line x1="840.6" y1="1239.5" x2="857.2" y2="1239.5" stroke="#000"/>
<text x="833.41" y="1246.75" font-size="27" letter-spacing="1">***</text>
<line x1="890.3" y1="1338.1" x2="907.7" y2="1338.1" stroke="#000"/>
<text x="883.71" y="1345.55" font-size="27" letter-spacing="1">***</text>
<line x1="927.5" y1="1354.7" x2="945.5" y2="1354.7" stroke="#000"/>
<text x="924.27" y="1361.35" font-size="27" letter-spacing="1">**</text>
<rect x="631" y="1174.3" width="23.6" height="7.7" fill="#c4c000" stroke="#000" stroke-width="2" />
<rect x="731.2" y="1174.3" width="22.8" height="7.7" fill="#0a7f98" stroke="#000" stroke-width="2" />
<rect x="631" y="1192.2" width="23.6" height="6.9" fill="#c46200" stroke="#000" stroke-width="2" />
<rect x="631" y="1206.6" width="23.6" height="7.6" fill="#058205" stroke="#000" stroke-width="2" />
<text x="667.42" y="1183.83" font-size="16.5">si-NC</text>
<text x="767.42" y="1183.83" font-size="16.5">si-LINC00202</text>
<text x="667.42" y="1201.33" font-size="16.5">si-LINC00202+vector</text>
<text x="667.42" y="1216.08" font-size="16.5">si-LINC00202+HMGCR</text>
<text x="638.86" y="1471.6" font-size="18.9">ki67</text>
<text x="714.84" y="1471.6" font-size="18.9">pro-c3</text>
<text x="782.04" y="1471.6" font-size="18.9">cleaved-c3</text>
<text x="889.87" y="1471.6" font-size="18.9">LDHA</text>
<text x="568.4" y="1475.61" font-size="22" transform="rotate(-90 568.4 1475.61)">Relative protein expression</text>
<line x1="1635.9" y1="1445.7" x2="1635.9" y2="1218.45" stroke="#000"/>
<line x1="1629" y1="1445.7" x2="1976.2" y2="1445.7" stroke="#000"/>
<line x1="1629.9" y1="1445.7" x2="1635.9" y2="1445.7" stroke="#000"/>
<text x="1599.69" y="1452.51" font-size="19.8">0.0</text>
<line x1="1629.9" y1="1400.25" x2="1635.9" y2="1400.25" stroke="#000"/>
<text x="1599.43" y="1407.06" font-size="19.8">0.5</text>
<line x1="1629.9" y1="1354.8" x2="1635.9" y2="1354.8" stroke="#000"/>
<text x="1599.69" y="1361.61" font-size="19.8">1.0</text>
<line x1="1629.9" y1="1309.35" x2="1635.9" y2="1309.35" stroke="#000"/>
<text x="1599.43" y="1316.16" font-size="19.8">1.5</text>
<line x1="1629.9" y1="1263.9" x2="1635.9" y2="1263.9" stroke="#000"/>
<text x="1599.69" y="1270.71" font-size="19.8">2.0</text>
<line x1="1629.9" y1="1218.45" x2="1635.9" y2="1218.45" stroke="#000"/>
<text x="1599.43" y="1225.26" font-size="19.8">2.5</text>
<line x1="1647.9" y1="1354.8" x2="1647.9" y2="1342.62" stroke="#000"/>
<line x1="1644.65" y1="1342.62" x2="1651.15" y2="1342.62" stroke="#000"/>
<rect x="1642.4" y="1354.8" width="11" height="90.9" fill="#c4c000" stroke="#000" stroke-width="2" />
<line x1="1666.55" y1="1388.07" x2="1666.55" y2="1381.98" stroke="#000"/>
<line x1="1663.23" y1="1381.98" x2="1669.88" y2="1381.98" stroke="#000"/>
<rect x="1660.9" y="1388.07" width="11.3" height="57.63" fill="#0a7f98" stroke="#000" stroke-width="2" />
<line x1="1685.2" y1="1386.71" x2="1685.2" y2="1379.98" stroke="#000"/>
<line x1="1681.95" y1="1379.98" x2="1688.45" y2="1379.98" stroke="#000"/>
<rect x="1679.7" y="1386.71" width="11" height="58.99" fill="#c46200" stroke="#000" stroke-width="2" />
<line x1="1703.8" y1="1364.53" x2="1703.8" y2="1356.98" stroke="#000"/>
<line x1="1700.5" y1="1356.98" x2="1707.1" y2="1356.98" stroke="#000"/>
<rect x="1698.2" y="1364.53" width="11.2" height="81.17" fill="#058205" stroke="#000" stroke-width="2" />
<line x1="1734.3" y1="1354.8" x2="1734.3" y2="1346.53" stroke="#000"/>
<line x1="1731.05" y1="1346.53" x2="1737.55" y2="1346.53" stroke="#000"/>
<rect x="1728.8" y="1354.8" width="11" height="90.9" fill="#c4c000" stroke="#000" stroke-width="2" />
<line x1="1752.8" y1="1364.53" x2="1752.8" y2="1356.44" stroke="#000"/>
<line x1="1749.55" y1="1356.44" x2="1756.05" y2="1356.44" stroke="#000"/>
<rect x="1747.3" y="1364.53" width="11" height="81.17" fill="#0a7f98" stroke="#000" stroke-width="2" />
<line x1="1771.4" y1="1363.07" x2="1771.4" y2="1354.8" stroke="#000"/>
<line x1="1768.1" y1="1354.8" x2="1774.7" y2="1354.8" stroke="#000"/>
<rect x="1765.8" y="1363.07" width="11.2" height="82.63" fill="#c46200" stroke="#000" stroke-width="2" />
<line x1="1790.05" y1="1357.53" x2="1790.05" y2="1349.26" stroke="#000"/>
<line x1="1786.82" y1="1349.26" x2="1793.28" y2="1349.26" stroke="#000"/>
<rect x="1784.6" y="1357.53" width="10.9" height="88.17" fill="#058205" stroke="#000" stroke-width="2" />
<line x1="1820.55" y1="1354.8" x2="1820.55" y2="1347.35" stroke="#000"/>
<line x1="1817.23" y1="1347.35" x2="1823.88" y2="1347.35" stroke="#000"/>
<rect x="1814.9" y="1354.8" width="11.3" height="90.9" fill="#c4c000" stroke="#000" stroke-width="2" />
<line x1="1839.2" y1="1263.63" x2="1839.2" y2="1249.45" stroke="#000"/>
<line x1="1835.95" y1="1249.45" x2="1842.45" y2="1249.45" stroke="#000"/>
<rect x="1833.7" y="1263.63" width="11" height="182.07" fill="#0a7f98" stroke="#000" stroke-width="2" />
<line x1="1857.8" y1="1262.81" x2="1857.8" y2="1246.17" stroke="#000"/>
<line x1="1854.5" y1="1246.17" x2="1861.1" y2="1246.17" stroke="#000"/>
<rect x="1852.2" y="1262.81" width="11.2" height="182.89" fill="#c46200" stroke="#000" stroke-width="2" />
<line x1="1876.3" y1="1334.8" x2="1876.3" y2="1324.62" stroke="#000"/>
<line x1="1873" y1="1324.62" x2="1879.6" y2="1324.62" stroke="#000"/>
<rect x="1870.7" y="1334.8" width="11.2" height="110.9" fill="#058205" stroke="#000" stroke-width="2" />
<line x1="1906.8" y1="1354.8" x2="1906.8" y2="1345.89" stroke="#000"/>
<line x1="1903.55" y1="1345.89" x2="1910.05" y2="1345.89" stroke="#000"/>
<rect x="1901.3" y="1354.8" width="11" height="90.9" fill="#c4c000" stroke="#000" stroke-width="2" />
<line x1="1925.45" y1="1399.98" x2="1925.45" y2="1395.25" stroke="#000"/>
<line x1="1922.12" y1="1395.25" x2="1928.77" y2="1395.25" stroke="#000"/>
<rect x="1919.8" y="1399.98" width="11.3" height="45.72" fill="#0a7f98" stroke="#000" stroke-width="2" />
<line x1="1944.1" y1="1404.7" x2="1944.1" y2="1399.98" stroke="#000"/>
<line x1="1940.85" y1="1399.98" x2="1947.35" y2="1399.98" stroke="#000"/>
<rect x="1938.6" y="1404.7" width="11" height="41" fill="#c46200" stroke="#000" stroke-width="2" />
<line x1="1962.7" y1="1367.53" x2="1962.7" y2="1359.25" stroke="#000"/>
<line x1="1959.4" y1="1359.25" x2="1966" y2="1359.25" stroke="#000"/>
<rect x="1957.1" y="1367.53" width="11.2" height="78.17" fill="#058205" stroke="#000" stroke-width="2" />
<line x1="1648.3" y1="1337.2" x2="1666.3" y2="1337.2" stroke="#000"/>
<text x="1640.41" y="1344.65" font-size="27" letter-spacing="1">***</text>
<line x1="1687" y1="1351.9" x2="1703.5" y2="1351.9" stroke="#000"/>
<text x="1689.42" y="1358.55" font-size="27" letter-spacing="1">*</text>
<line x1="1820.8" y1="1243.7" x2="1838.8" y2="1243.7" stroke="#000"/>
<text x="1813.71" y="1250.85" font-size="27" letter-spacing="1">***</text>
<line x1="1858.9" y1="1243.7" x2="1876.6" y2="1243.7" stroke="#000"/>
<text x="1852.31" y="1250.85" font-size="27" letter-spacing="1">***</text>
<line x1="1907.2" y1="1340.8" x2="1924.3" y2="1340.8" stroke="#000"/>
<text x="1900.61" y="1347.45" font-size="27" letter-spacing="1">***</text>
<line x1="1945.9" y1="1354" x2="1963" y2="1354" stroke="#000"/>
<text x="1938.41" y="1360.75" font-size="27" letter-spacing="1">***</text>
<rect x="1642.4" y="1183.1" width="22.9" height="7.7" fill="#c4c000" stroke="#000" stroke-width="2" />
<rect x="1746.5" y="1183.1" width="23.7" height="7.7" fill="#0a7f98" stroke="#000" stroke-width="2" />
<rect x="1642.4" y="1199.1" width="22.9" height="6.9" fill="#c46200" stroke="#000" stroke-width="2" />
<rect x="1642.4" y="1213.5" width="22.9" height="7.6" fill="#058205" stroke="#000" stroke-width="2" />
<text x="1679.52" y="1192.63" font-size="16.5">si-NC</text>
<text x="1783.52" y="1192.63" font-size="16.5">si-LINC00202</text>
<text x="1679.52" y="1208.23" font-size="16.5">si-LINC00202+vector</text>
<text x="1679.52" y="1222.98" font-size="16.5">si-LINC00202+HMGCR</text>
<text x="1656.76" y="1471.5" font-size="18.9">ki67</text>
<text x="1732.84" y="1471.5" font-size="18.9">pro-c3</text>
<text x="1800.04" y="1471.5" font-size="18.9">cleaved-c3</text>
<text x="1907.87" y="1471.5" font-size="18.9">LDHA</text>
<text x="1586" y="1475.61" font-size="22" transform="rotate(-90 1586 1475.61)">Relative protein expression</text>
</g>
</svg>
</body></html>
